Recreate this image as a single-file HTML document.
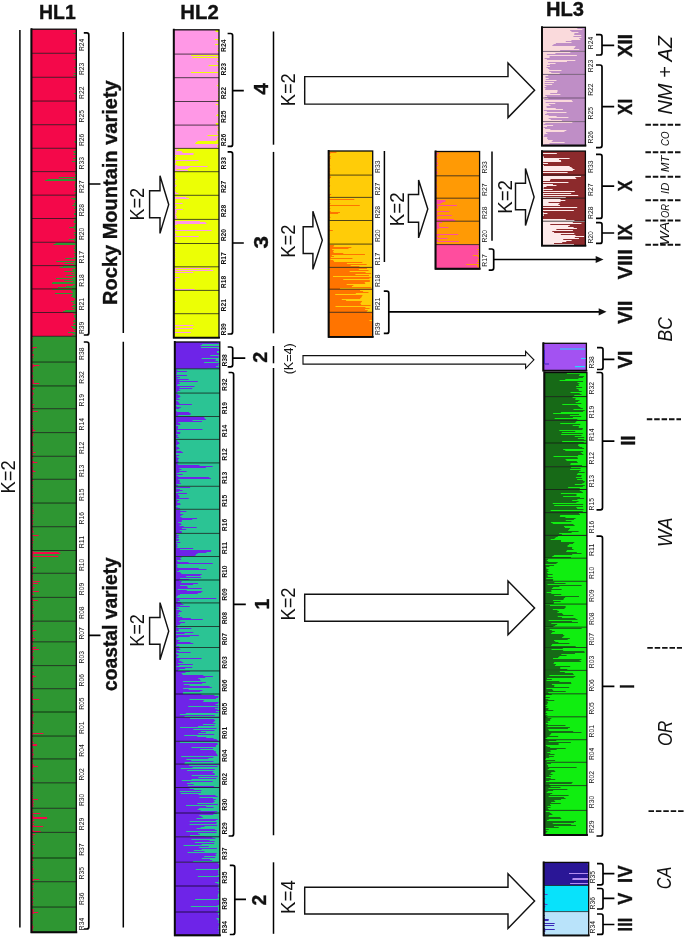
<!DOCTYPE html>
<html lang="en"><head><meta charset="utf-8"><title>Hierarchical STRUCTURE analysis</title>
<style>html,body{margin:0;padding:0;background:#fff;}body{width:685px;height:939px;overflow:hidden;}svg{display:block;font-family:"Liberation Sans", sans-serif;filter:blur(0.45px);}text{fill:#111;}</style>
</head><body>
<svg width="685" height="939" viewBox="0 0 685 939">
<rect width="685" height="939" fill="#fff"/>
<rect x="31.3" y="29.2" width="45" height="24.1" fill="#f4084a"/>
<path d="M73.34 33h2.96v1h-2.96zM75.21 49h1.09v1h-1.09z" fill="#2e9632"/>
<rect x="31.3" y="53.3" width="45" height="24" fill="#f4084a"/>
<path d="M74.9 55h1.4v1h-1.4zM73.5 59h2.8v1h-2.8zM74.15 67h2.15v1h-2.15zM75.26 70h1.04v1h-1.04zM73.71 73h2.59v1h-2.59zM73.42 75h2.88v1h-2.88z" fill="#2e9632"/>
<rect x="31.3" y="77.3" width="45" height="23.8" fill="#f4084a"/>
<path d="M73.85 93h2.45v1h-2.45z" fill="#2e9632"/>
<rect x="31.3" y="101.1" width="45" height="23.6" fill="#f4084a"/>
<path d="M74.9 110h1.4v1h-1.4z" fill="#2e9632"/>
<rect x="31.3" y="124.7" width="45" height="23.6" fill="#f4084a"/>
<path d="M74.34 141h1.96v1h-1.96zM74.83 142h1.47v1h-1.47z" fill="#2e9632"/>
<rect x="31.3" y="148.3" width="45" height="23.3" fill="#f4084a"/>
<path d="M75.48 150h0.82v1h-0.82zM73.33 151h2.97v1h-2.97zM74.08 152h2.22v1h-2.22zM75.69 153h0.61v1h-0.61zM73.43 154h2.87v1h-2.87zM75.87 156h0.43v1h-0.43zM75.55 157h0.75v1h-0.75zM72.92 158h3.38v1h-3.38zM75.66 159h0.64v1h-0.64zM75.71 160h0.59v1h-0.59zM71.86 161h4.44v1h-4.44zM75.57 162h0.73v1h-0.73zM75.5 163h0.8v1h-0.8zM75.85 164h0.45v1h-0.45zM75.86 165h0.44v1h-0.44zM75.71 166h0.59v1h-0.59zM75.45 168h0.85v1h-0.85zM75.48 170h0.82v1h-0.82z" fill="#2e9632"/>
<rect x="31.3" y="171.6" width="45" height="23.6" fill="#f4084a"/>
<path d="M74.94 172h1.36v1h-1.36zM74.78 173h1.52v1h-1.52zM74.94 175h1.36v1h-1.36zM75.14 176h1.16v1h-1.16zM58.68 177h17.62v1h-17.62zM75.41 178h0.89v1h-0.89zM47.43 179h28.87v1h-28.87zM45.28 180h31.02v1h-31.02zM75.55 181h0.75v1h-0.75zM75.68 182h0.62v1h-0.62zM75.2 183h1.1v1h-1.1zM74.77 184h1.53v1h-1.53zM74.58 185h1.72v1h-1.72zM75.63 186h0.67v1h-0.67zM74.75 187h1.55v1h-1.55zM75.55 189h0.75v1h-0.75zM75.75 190h0.55v1h-0.55zM74.1 191h2.2v1h-2.2zM75.63 193h0.67v1h-0.67zM74.51 194h1.79v1h-1.79z" fill="#2e9632"/>
<rect x="31.3" y="195.2" width="45" height="23.3" fill="#f4084a"/>
<path d="M75.62 196h0.68v1h-0.68zM75.38 197h0.92v1h-0.92zM70.91 198h5.39v1h-5.39zM73.49 199h2.81v1h-2.81zM74.89 201h1.41v1h-1.41zM75.27 202h1.03v1h-1.03zM73.68 203h2.62v1h-2.62zM74.42 204h1.88v1h-1.88zM72.44 205h3.86v1h-3.86zM75.47 206h0.83v1h-0.83zM74.99 207h1.31v1h-1.31zM73.92 208h2.38v1h-2.38zM74.81 211h1.49v1h-1.49zM73.98 213h2.32v1h-2.32zM73.96 214h2.34v1h-2.34zM73.79 217h2.51v1h-2.51z" fill="#2e9632"/>
<rect x="31.3" y="218.5" width="45" height="23.8" fill="#f4084a"/>
<path d="M74.82 219h1.48v1h-1.48zM74.53 220h1.77v1h-1.77zM73.6 221h2.7v1h-2.7zM73.92 222h2.38v1h-2.38zM74.66 224h1.64v1h-1.64zM74.57 225h1.73v1h-1.73zM73.73 226h2.57v1h-2.57zM69.23 227h7.07v1h-7.07zM74.32 228h1.98v1h-1.98zM74.61 229h1.69v1h-1.69zM75.79 230h0.51v1h-0.51zM73.73 232h2.57v1h-2.57zM75.63 233h0.67v1h-0.67zM73.73 234h2.57v1h-2.57zM74.87 235h1.43v1h-1.43zM75.6 236h0.7v1h-0.7zM75.37 237h0.93v1h-0.93zM74.66 238h1.64v1h-1.64zM68.7 239h7.6v1h-7.6zM74.19 240h2.11v1h-2.11zM74.81 241h1.49v1h-1.49z" fill="#2e9632"/>
<rect x="31.3" y="242.3" width="45" height="23.3" fill="#f4084a"/>
<path d="M55.45 243h20.85v1h-20.85zM53.39 244h22.91v1h-22.91zM75.14 245h1.16v1h-1.16zM74.71 246h1.59v1h-1.59zM74.62 247h1.68v1h-1.68zM73.62 248h2.68v1h-2.68zM74.96 249h1.34v1h-1.34zM74.18 250h2.12v1h-2.12zM74.68 251h1.62v1h-1.62zM75.89 252h0.41v1h-0.41zM73.79 253h2.51v1h-2.51zM74.88 254h1.42v1h-1.42zM74.39 255h1.91v1h-1.91zM73.89 257h2.41v1h-2.41zM65.36 258h10.94v1h-10.94zM75.35 259h0.95v1h-0.95zM75.09 260h1.21v1h-1.21zM56.26 261h20.04v1h-20.04zM74.42 262h1.88v1h-1.88zM64.43 263h11.87v1h-11.87zM73.79 264h2.51v1h-2.51zM74.65 265h1.65v0.6h-1.65z" fill="#2e9632"/>
<rect x="31.3" y="265.6" width="45" height="23.3" fill="#f4084a"/>
<path d="M62.82 266h13.48v1h-13.48zM59.67 267h16.63v1h-16.63zM75.33 268h0.97v1h-0.97zM72.46 269h3.84v1h-3.84zM72.73 270h3.57v1h-3.57zM64.48 271h11.82v1h-11.82zM74.35 272h1.95v1h-1.95zM71.5 273h4.8v1h-4.8zM74.42 274h1.88v1h-1.88zM65.93 275h10.37v1h-10.37zM75.71 276h0.59v1h-0.59zM72.39 277h3.91v1h-3.91zM55.94 278h20.36v1h-20.36zM72.19 279h4.11v1h-4.11zM64.27 280h12.03v1h-12.03zM73.12 281h3.18v1h-3.18zM52.49 282h23.81v1h-23.81zM52.01 283h24.29v1h-24.29zM74.65 284h1.65v1h-1.65zM72.83 285h3.47v1h-3.47zM66.09 286h10.21v1h-10.21zM57.82 287h18.48v1h-18.48zM72.11 288h4.19v0.9h-4.19z" fill="#2e9632"/>
<rect x="31.3" y="288.9" width="45" height="23.6" fill="#f4084a"/>
<path d="M52.35 289h23.95v1h-23.95zM71.46 290h4.84v1h-4.84zM72.5 291h3.8v1h-3.8zM72.85 292h3.45v1h-3.45zM54.86 293h21.44v1h-21.44zM72.54 294h3.76v1h-3.76zM72.14 295h4.16v1h-4.16zM71.08 296h5.22v1h-5.22zM72.97 297h3.33v1h-3.33zM74.94 298h1.36v1h-1.36zM75.21 299h1.09v1h-1.09zM74.12 300h2.18v1h-2.18zM70.92 301h5.38v1h-5.38zM73.75 302h2.55v1h-2.55zM72.56 303h3.74v1h-3.74zM75.19 304h1.11v1h-1.11zM72.83 305h3.47v1h-3.47zM71.72 306h4.58v1h-4.58zM74.6 307h1.7v1h-1.7zM72.38 308h3.92v1h-3.92zM74.42 309h1.88v1h-1.88zM65.13 310h11.17v1h-11.17zM63.03 311h13.27v1h-13.27z" fill="#2e9632"/>
<rect x="31.3" y="312.5" width="45" height="23.8" fill="#f4084a"/>
<path d="M73.42 313h2.88v1h-2.88zM75.81 314h0.49v1h-0.49zM73.99 315h2.31v1h-2.31zM73.86 316h2.44v1h-2.44zM74.48 317h1.82v1h-1.82zM75.3 318h1v1h-1zM75.28 319h1.02v1h-1.02zM73.59 320h2.71v1h-2.71zM73.14 321h3.16v1h-3.16zM75.43 322h0.87v1h-0.87zM73.68 323h2.62v1h-2.62zM73.08 324h3.22v1h-3.22zM75.82 325h0.48v1h-0.48zM71.2 326h5.1v1h-5.1zM72.4 327h3.9v1h-3.9zM72.93 328h3.37v1h-3.37zM75.6 329h0.7v1h-0.7zM73.87 330h2.43v1h-2.43zM75.65 331h0.65v1h-0.65zM68.06 332h8.24v1h-8.24zM72.76 333h3.54v1h-3.54zM74.41 334h1.89v1h-1.89zM72.29 335h4.01v1h-4.01z" fill="#2e9632"/>
<rect x="31.3" y="336.3" width="45" height="25.8" fill="#2e9632"/>
<path d="M31.3 337h1.75v1h-1.75zM31.3 338h0.68v1h-0.68zM31.3 340h1.46v1h-1.46zM31.3 341h0.59v1h-0.59zM31.3 342h0.86v1h-0.86zM31.3 343h0.93v1h-0.93zM31.3 344h1.16v1h-1.16zM31.3 345h1.04v1h-1.04zM31.3 346h0.68v1h-0.68zM31.3 347h5.49v1h-5.49zM31.3 348h2.21v1h-2.21zM31.3 350h2.27v1h-2.27zM31.3 351h1.06v1h-1.06zM31.3 352h0.86v1h-0.86zM31.3 353h0.47v1h-0.47zM31.3 354h2.4v1h-2.4zM31.3 355h2.35v1h-2.35zM31.3 357h2.26v1h-2.26zM31.3 358h0.59v1h-0.59zM31.3 359h1.14v1h-1.14zM31.3 360h0.64v1h-0.64zM31.3 361h1.39v1h-1.39z" fill="#f4084a"/>
<rect x="31.3" y="362.1" width="45" height="23.8" fill="#2e9632"/>
<path d="M31.3 363h0.5v1h-0.5zM31.3 364h2.24v1h-2.24zM31.3 365h8.04v1h-8.04zM31.3 366h3.15v1h-3.15zM31.3 367h1.64v1h-1.64zM31.3 368h1.54v1h-1.54zM31.3 369h1.23v1h-1.23zM31.3 370h1.62v1h-1.62zM31.3 371h1.94v1h-1.94zM31.3 372h0.63v1h-0.63zM31.3 373h0.51v1h-0.51zM31.3 374h1.22v1h-1.22zM31.3 375h1.66v1h-1.66zM31.3 376h1.97v1h-1.97zM31.3 377h1.36v1h-1.36zM31.3 378h0.53v1h-0.53zM31.3 379h1.87v1h-1.87zM31.3 380h2.43v1h-2.43zM31.3 381h2.29v1h-2.29zM31.3 382h2.32v1h-2.32zM31.3 383h8.03v1h-8.03zM31.3 384h0.84v1h-0.84zM31.3 385h1.35v0.9h-1.35z" fill="#f4084a"/>
<rect x="31.3" y="385.9" width="45" height="22.8" fill="#2e9632"/>
<path d="M31.3 386h0.69v1h-0.69zM31.3 387h0.94v1h-0.94zM31.3 388h3.48v1h-3.48zM31.3 389h2.24v1h-2.24zM31.3 390h0.48v1h-0.48zM31.3 391h1.03v1h-1.03zM31.3 392h1.53v1h-1.53zM31.3 393h2.46v1h-2.46zM31.3 394h2.02v1h-2.02zM31.3 395h1.52v1h-1.52zM31.3 396h1.22v1h-1.22zM31.3 398h1.66v1h-1.66zM31.3 399h1.72v1h-1.72zM31.3 401h1.2v1h-1.2zM31.3 402h0.52v1h-0.52zM31.3 404h3.06v1h-3.06zM31.3 405h1.54v1h-1.54zM31.3 406h1.63v1h-1.63zM31.3 407h2.33v1h-2.33zM31.3 408h0.44v0.7h-0.44z" fill="#f4084a"/>
<rect x="31.3" y="408.7" width="45" height="23.9" fill="#2e9632"/>
<path d="M31.3 409h2.19v1h-2.19zM31.3 410h0.82v1h-0.82zM31.3 411h6.55v1h-6.55zM31.3 412h1.22v1h-1.22zM31.3 413h0.78v1h-0.78zM31.3 414h1.42v1h-1.42zM31.3 416h1.46v1h-1.46zM31.3 417h0.67v1h-0.67zM31.3 418h1.67v1h-1.67zM31.3 419h0.92v1h-0.92zM31.3 420h2.23v1h-2.23zM31.3 422h1.27v1h-1.27zM31.3 423h0.73v1h-0.73zM31.3 425h1.79v1h-1.79zM31.3 426h0.82v1h-0.82zM31.3 427h2v1h-2zM31.3 428h1.67v1h-1.67zM31.3 429h2.21v1h-2.21zM31.3 430h4.06v1h-4.06zM31.3 431h1.9v1h-1.9zM31.3 432h0.96v0.6h-0.96z" fill="#f4084a"/>
<rect x="31.3" y="432.6" width="45" height="23.7" fill="#2e9632"/>
<path d="M31.3 433h2.27v1h-2.27zM31.3 434h1.72v1h-1.72zM31.3 435h2.11v1h-2.11zM31.3 436h1.21v1h-1.21zM31.3 437h0.92v1h-0.92zM31.3 438h0.4v1h-0.4zM31.3 440h1v1h-1zM31.3 442h1.79v1h-1.79zM31.3 443h1.55v1h-1.55zM31.3 444h2.07v1h-2.07zM31.3 445h2.18v1h-2.18zM31.3 446h0.47v1h-0.47zM31.3 448h1.65v1h-1.65zM31.3 449h0.87v1h-0.87zM31.3 450h1.93v1h-1.93zM31.3 451h1.18v1h-1.18zM31.3 452h4.41v1h-4.41zM31.3 453h0.95v1h-0.95zM31.3 454h2.14v1h-2.14zM31.3 455h1.15v1h-1.15z" fill="#f4084a"/>
<rect x="31.3" y="456.3" width="45" height="23" fill="#2e9632"/>
<path d="M31.3 457h1.96v1h-1.96zM31.3 458h1.44v1h-1.44zM31.3 459h0.43v1h-0.43zM31.3 461h2.43v1h-2.43zM31.3 462h6.01v1h-6.01zM31.3 463h1.34v1h-1.34zM31.3 464h0.81v1h-0.81zM31.3 465h0.71v1h-0.71zM31.3 466h0.47v1h-0.47zM31.3 467h2v1h-2zM31.3 468h1.64v1h-1.64zM31.3 469h1.11v1h-1.11zM31.3 470h2.22v1h-2.22zM31.3 471h4.26v1h-4.26zM31.3 472h1.08v1h-1.08zM31.3 473h1.26v1h-1.26zM31.3 474h1.92v1h-1.92zM31.3 475h0.96v1h-0.96zM31.3 476h1.71v1h-1.71zM31.3 477h1.21v1h-1.21zM31.3 478h0.51v1h-0.51z" fill="#f4084a"/>
<rect x="31.3" y="479.3" width="45" height="23.8" fill="#2e9632"/>
<path d="M31.3 480h2.22v1h-2.22zM31.3 481h0.9v1h-0.9zM31.3 482h0.57v1h-0.57zM31.3 483h0.96v1h-0.96zM31.3 484h0.96v1h-0.96zM31.3 485h1.86v1h-1.86zM31.3 486h0.45v1h-0.45zM31.3 487h2.01v1h-2.01zM31.3 488h0.67v1h-0.67zM31.3 489h0.69v1h-0.69zM31.3 490h1.12v1h-1.12zM31.3 491h1.35v1h-1.35zM31.3 492h0.54v1h-0.54zM31.3 493h1.89v1h-1.89zM31.3 494h1.52v1h-1.52zM31.3 495h0.74v1h-0.74zM31.3 496h1.97v1h-1.97zM31.3 497h1.75v1h-1.75zM31.3 498h0.93v1h-0.93zM31.3 499h1.17v1h-1.17zM31.3 500h1.64v1h-1.64zM31.3 501h1.25v1h-1.25zM31.3 502h1.74v1h-1.74z" fill="#f4084a"/>
<rect x="31.3" y="503.1" width="45" height="23.6" fill="#2e9632"/>
<path d="M31.3 504h0.64v1h-0.64zM31.3 505h1.1v1h-1.1zM31.3 507h1.98v1h-1.98zM31.3 508h0.45v1h-0.45zM31.3 509h1.84v1h-1.84zM31.3 510h2.09v1h-2.09zM31.3 511h2.36v1h-2.36zM31.3 512h1.11v1h-1.11zM31.3 513h2.44v1h-2.44zM31.3 514h0.84v1h-0.84zM31.3 515h1.17v1h-1.17zM31.3 516h1.02v1h-1.02zM31.3 517h1.89v1h-1.89zM31.3 518h0.72v1h-0.72zM31.3 519h0.7v1h-0.7zM31.3 520h2.05v1h-2.05zM31.3 521h1.49v1h-1.49zM31.3 522h1.02v1h-1.02zM31.3 523h2.06v1h-2.06zM31.3 524h1.46v1h-1.46zM31.3 525h1.02v1h-1.02zM31.3 526h1.07v0.7h-1.07z" fill="#f4084a"/>
<rect x="31.3" y="526.7" width="45" height="23.8" fill="#2e9632"/>
<path d="M31.3 527h1.18v1h-1.18zM31.3 528h1.85v1h-1.85zM31.3 529h0.9v1h-0.9zM31.3 530h1.66v1h-1.66zM31.3 531h2.31v1h-2.31zM31.3 532h2.09v1h-2.09zM31.3 533h0.54v1h-0.54zM31.3 535h7.27v1h-7.27zM31.3 536h0.55v1h-0.55zM31.3 537h1v1h-1zM31.3 538h2.01v1h-2.01zM31.3 539h1.59v1h-1.59zM31.3 540h2.24v1h-2.24zM31.3 541h0.67v1h-0.67zM31.3 542h1.89v1h-1.89zM31.3 543h1.47v1h-1.47zM31.3 544h0.54v1h-0.54zM31.3 545h1.28v1h-1.28zM31.3 546h1.35v1h-1.35zM31.3 548h1.49v1h-1.49zM31.3 549h1.07v1h-1.07z" fill="#f4084a"/>
<rect x="31.3" y="550.5" width="45" height="22.8" fill="#2e9632"/>
<path d="M31.3 551h2.18v1h-2.18zM31.3 552h27.4v1h-27.4zM31.3 553h29.07v1h-29.07zM31.3 554h2.22v1h-2.22zM31.3 555h2.07v1h-2.07zM31.3 556h27.01v1h-27.01zM31.3 557h1.11v1h-1.11zM31.3 558h1.84v1h-1.84zM31.3 559h1.21v1h-1.21zM31.3 560h0.98v1h-0.98zM31.3 561h1.36v1h-1.36zM31.3 562h2.2v1h-2.2zM31.3 563h1.05v1h-1.05zM31.3 564h1.51v1h-1.51zM31.3 565h0.52v1h-0.52zM31.3 566h1.43v1h-1.43zM31.3 567h4.72v1h-4.72zM31.3 568h1.55v1h-1.55zM31.3 569h2.09v1h-2.09zM31.3 570h1.58v1h-1.58zM31.3 571h1.68v1h-1.68zM31.3 572h1.27v1h-1.27z" fill="#f4084a"/>
<rect x="31.3" y="573.3" width="45" height="24.1" fill="#2e9632"/>
<path d="M31.3 574h0.45v1h-0.45zM31.3 575h1.97v1h-1.97zM31.3 576h1.05v1h-1.05zM31.3 577h1.49v1h-1.49zM31.3 578h1.17v1h-1.17zM31.3 579h1.67v1h-1.67zM31.3 580h1.5v1h-1.5zM31.3 581h8.45v1h-8.45zM31.3 582h1.23v1h-1.23zM31.3 583h6.78v1h-6.78zM31.3 584h1.29v1h-1.29zM31.3 585h1.68v1h-1.68zM31.3 587h3.18v1h-3.18zM31.3 588h2.18v1h-2.18zM31.3 589h1.84v1h-1.84zM31.3 590h0.65v1h-0.65zM31.3 591h7.71v1h-7.71zM31.3 592h0.41v1h-0.41zM31.3 593h1.26v1h-1.26zM31.3 594h2.39v1h-2.39zM31.3 596h0.4v1h-0.4z" fill="#f4084a"/>
<rect x="31.3" y="597.4" width="45" height="23.8" fill="#2e9632"/>
<path d="M31.3 598h1.87v1h-1.87zM31.3 599h1.32v1h-1.32zM31.3 600h6.65v1h-6.65zM31.3 601h0.55v1h-0.55zM31.3 602h1.68v1h-1.68zM31.3 603h1.09v1h-1.09zM31.3 604h1.99v1h-1.99zM31.3 606h2.09v1h-2.09zM31.3 607h2.42v1h-2.42zM31.3 608h0.92v1h-0.92zM31.3 609h1.07v1h-1.07zM31.3 610h2.24v1h-2.24zM31.3 612h1.54v1h-1.54zM31.3 614h2.18v1h-2.18zM31.3 615h2.14v1h-2.14zM31.3 616h2.28v1h-2.28zM31.3 617h1.47v1h-1.47zM31.3 618h1.91v1h-1.91zM31.3 619h1.59v1h-1.59zM31.3 620h0.69v1h-0.69z" fill="#f4084a"/>
<rect x="31.3" y="621.2" width="45" height="20.6" fill="#2e9632"/>
<path d="M31.3 622h1.92v1h-1.92zM31.3 623h0.42v1h-0.42zM31.3 624h0.75v1h-0.75zM31.3 625h2.22v1h-2.22zM31.3 626h1.55v1h-1.55zM31.3 627h0.63v1h-0.63zM31.3 628h1.49v1h-1.49zM31.3 629h0.56v1h-0.56zM31.3 630h5.11v1h-5.11zM31.3 631h2v1h-2zM31.3 632h1v1h-1zM31.3 634h1.32v1h-1.32zM31.3 635h1.98v1h-1.98zM31.3 636h1.95v1h-1.95zM31.3 637h0.8v1h-0.8zM31.3 638h3.63v1h-3.63zM31.3 639h1.48v1h-1.48zM31.3 640h2.36v1h-2.36zM31.3 641h1.57v0.8h-1.57z" fill="#f4084a"/>
<rect x="31.3" y="641.8" width="45" height="23.8" fill="#2e9632"/>
<path d="M31.3 642h0.49v1h-0.49zM31.3 643h1.5v1h-1.5zM31.3 644h1.73v1h-1.73zM31.3 645h0.58v1h-0.58zM31.3 646h0.72v1h-0.72zM31.3 647h4.94v1h-4.94zM31.3 648h2.11v1h-2.11zM31.3 649h7.68v1h-7.68zM31.3 651h2.34v1h-2.34zM31.3 652h1.56v1h-1.56zM31.3 653h0.95v1h-0.95zM31.3 654h1.31v1h-1.31zM31.3 655h0.55v1h-0.55zM31.3 656h1.84v1h-1.84zM31.3 657h2.31v1h-2.31zM31.3 658h2.18v1h-2.18zM31.3 659h1.23v1h-1.23zM31.3 660h2.12v1h-2.12zM31.3 661h0.99v1h-0.99zM31.3 662h1.64v1h-1.64zM31.3 664h0.55v1h-0.55zM31.3 665h1.15v0.6h-1.15z" fill="#f4084a"/>
<rect x="31.3" y="665.6" width="45" height="23.1" fill="#2e9632"/>
<path d="M31.3 666h0.83v1h-0.83zM31.3 667h0.6v1h-0.6zM31.3 668h2.26v1h-2.26zM31.3 670h0.7v1h-0.7zM31.3 671h0.81v1h-0.81zM31.3 672h2.45v1h-2.45zM31.3 673h0.44v1h-0.44zM31.3 675h2.43v1h-2.43zM31.3 676h4.86v1h-4.86zM31.3 677h2.1v1h-2.1zM31.3 678h1.2v1h-1.2zM31.3 679h1.51v1h-1.51zM31.3 680h1.96v1h-1.96zM31.3 681h0.4v1h-0.4zM31.3 682h1.34v1h-1.34zM31.3 683h1.6v1h-1.6zM31.3 684h1.54v1h-1.54zM31.3 685h1.87v1h-1.87zM31.3 687h2.12v1h-2.12z" fill="#f4084a"/>
<rect x="31.3" y="688.7" width="45" height="23.3" fill="#2e9632"/>
<path d="M31.3 689h1.31v1h-1.31zM31.3 690h0.78v1h-0.78zM31.3 691h0.74v1h-0.74zM31.3 692h0.46v1h-0.46zM31.3 693h1.38v1h-1.38zM31.3 694h1.92v1h-1.92zM31.3 695h1.73v1h-1.73zM31.3 696h0.56v1h-0.56zM31.3 697h1.34v1h-1.34zM31.3 698h1.42v1h-1.42zM31.3 699h8.02v1h-8.02zM31.3 700h0.9v1h-0.9zM31.3 702h0.48v1h-0.48zM31.3 703h1.39v1h-1.39zM31.3 704h2.02v1h-2.02zM31.3 706h0.95v1h-0.95zM31.3 707h0.7v1h-0.7zM31.3 708h0.71v1h-0.71zM31.3 709h0.75v1h-0.75zM31.3 710h1.15v1h-1.15zM31.3 711h1.4v1h-1.4z" fill="#f4084a"/>
<rect x="31.3" y="712" width="45" height="24.1" fill="#2e9632"/>
<path d="M31.3 712h2.14v1h-2.14zM31.3 713h0.88v1h-0.88zM31.3 714h2.22v1h-2.22zM31.3 715h1.92v1h-1.92zM31.3 716h2v1h-2zM31.3 717h0.9v1h-0.9zM31.3 718h1.11v1h-1.11zM31.3 719h0.8v1h-0.8zM31.3 721h2.14v1h-2.14zM31.3 722h2.04v1h-2.04zM31.3 723h2.68v1h-2.68zM31.3 724h0.94v1h-0.94zM31.3 725h1.57v1h-1.57zM31.3 726h1.23v1h-1.23zM31.3 727h1v1h-1zM31.3 728h1.52v1h-1.52zM31.3 729h0.93v1h-0.93zM31.3 730h0.72v1h-0.72zM31.3 731h0.98v1h-0.98zM31.3 732h0.89v1h-0.89zM31.3 733h12.06v1h-12.06zM31.3 734h1.62v1h-1.62zM31.3 735h1.28v1h-1.28z" fill="#f4084a"/>
<rect x="31.3" y="736.1" width="45" height="22.8" fill="#2e9632"/>
<path d="M31.3 737h1.6v1h-1.6zM31.3 738h0.77v1h-0.77zM31.3 739h1.09v1h-1.09zM31.3 740h1.02v1h-1.02zM31.3 741h1.48v1h-1.48zM31.3 742h2.45v1h-2.45zM31.3 743h0.58v1h-0.58zM31.3 744h5.62v1h-5.62zM31.3 745h5.62v1h-5.62zM31.3 746h0.73v1h-0.73zM31.3 747h0.57v1h-0.57zM31.3 748h1.74v1h-1.74zM31.3 749h2.07v1h-2.07zM31.3 750h1.9v1h-1.9zM31.3 751h1.99v1h-1.99zM31.3 752h0.51v1h-0.51zM31.3 753h1.95v1h-1.95zM31.3 754h2.39v1h-2.39zM31.3 755h1.99v1h-1.99zM31.3 756h1.08v1h-1.08zM31.3 757h1.85v1h-1.85zM31.3 758h1.47v0.9h-1.47z" fill="#f4084a"/>
<rect x="31.3" y="758.9" width="45" height="23.9" fill="#2e9632"/>
<path d="M31.3 759h0.95v1h-0.95zM31.3 760h1.35v1h-1.35zM31.3 761h0.91v1h-0.91zM31.3 762h1.53v1h-1.53zM31.3 763h0.95v1h-0.95zM31.3 764h2.38v1h-2.38zM31.3 765h2.27v1h-2.27zM31.3 766h6.57v1h-6.57zM31.3 767h1.97v1h-1.97zM31.3 768h1.39v1h-1.39zM31.3 769h1.1v1h-1.1zM31.3 770h1.01v1h-1.01zM31.3 771h1.41v1h-1.41zM31.3 772h1.13v1h-1.13zM31.3 773h2.2v1h-2.2zM31.3 774h1.22v1h-1.22zM31.3 775h1v1h-1zM31.3 776h0.61v1h-0.61zM31.3 777h2.08v1h-2.08zM31.3 778h2.24v1h-2.24zM31.3 779h2.45v1h-2.45zM31.3 780h0.58v1h-0.58zM31.3 781h1.36v1h-1.36zM31.3 782h1.64v0.8h-1.64z" fill="#f4084a"/>
<rect x="31.3" y="782.8" width="45" height="25.5" fill="#2e9632"/>
<path d="M31.3 783h1.02v1h-1.02zM31.3 785h0.92v1h-0.92zM31.3 786h0.91v1h-0.91zM31.3 787h1.73v1h-1.73zM31.3 788h1.47v1h-1.47zM31.3 789h1.42v1h-1.42zM31.3 790h1.15v1h-1.15zM31.3 791h1.93v1h-1.93zM31.3 792h0.61v1h-0.61zM31.3 793h1.6v1h-1.6zM31.3 795h1.83v1h-1.83zM31.3 796h0.82v1h-0.82zM31.3 797h1.54v1h-1.54zM31.3 798h1.09v1h-1.09zM31.3 799h6.71v1h-6.71zM31.3 800h1.62v1h-1.62zM31.3 801h2.32v1h-2.32zM31.3 802h2.25v1h-2.25zM31.3 803h1.58v1h-1.58zM31.3 804h2.36v1h-2.36zM31.3 805h1.84v1h-1.84zM31.3 806h2.19v1h-2.19zM31.3 807h0.77v1h-0.77z" fill="#f4084a"/>
<rect x="31.3" y="808.3" width="45" height="24.1" fill="#2e9632"/>
<path d="M31.3 809h1.42v1h-1.42zM31.3 810h1.23v1h-1.23zM31.3 811h1.89v1h-1.89zM31.3 812h0.63v1h-0.63zM31.3 813h9.24v1h-9.24zM31.3 814h1.22v1h-1.22zM31.3 815h2.24v1h-2.24zM31.3 816h2.36v1h-2.36zM31.3 817h15.77v1h-15.77zM31.3 818h15.79v1h-15.79zM31.3 819h1.4v1h-1.4zM31.3 820h3.04v1h-3.04zM31.3 821h1.81v1h-1.81zM31.3 822h0.8v1h-0.8zM31.3 823h2.88v1h-2.88zM31.3 824h1.11v1h-1.11zM31.3 825h2.81v1h-2.81zM31.3 826h11.83v1h-11.83zM31.3 827h1.49v1h-1.49zM31.3 828h1.29v1h-1.29zM31.3 829h0.93v1h-0.93zM31.3 830h2.24v1h-2.24zM31.3 831h9.38v1h-9.38z" fill="#f4084a"/>
<rect x="31.3" y="832.4" width="45" height="25.6" fill="#2e9632"/>
<path d="M31.3 833h0.89v1h-0.89zM31.3 834h3.98v1h-3.98zM31.3 835h0.86v1h-0.86zM31.3 836h1.97v1h-1.97zM31.3 837h0.52v1h-0.52zM31.3 838h1.75v1h-1.75zM31.3 839h1.15v1h-1.15zM31.3 840h0.78v1h-0.78zM31.3 841h1.64v1h-1.64zM31.3 842h2.28v1h-2.28zM31.3 844h3.77v1h-3.77zM31.3 846h0.63v1h-0.63zM31.3 847h1.84v1h-1.84zM31.3 848h1.76v1h-1.76zM31.3 849h2.1v1h-2.1zM31.3 852h2.01v1h-2.01zM31.3 853h1.91v1h-1.91zM31.3 854h1.11v1h-1.11zM31.3 855h0.86v1h-0.86zM31.3 856h1.18v1h-1.18zM31.3 857h1.89v1h-1.89z" fill="#f4084a"/>
<rect x="31.3" y="858" width="45" height="23.7" fill="#2e9632"/>
<path d="M31.3 858h1.64v1h-1.64zM31.3 859h1.8v1h-1.8zM31.3 860h2.31v1h-2.31zM31.3 862h0.81v1h-0.81zM31.3 863h1.66v1h-1.66zM31.3 865h0.68v1h-0.68zM31.3 866h1.82v1h-1.82zM31.3 867h0.77v1h-0.77zM31.3 868h2.33v1h-2.33zM31.3 869h2.22v1h-2.22zM31.3 870h0.98v1h-0.98zM31.3 871h1.94v1h-1.94zM31.3 872h1.57v1h-1.57zM31.3 873h2.1v1h-2.1zM31.3 874h1.04v1h-1.04zM31.3 875h0.86v1h-0.86zM31.3 876h1.23v1h-1.23zM31.3 877h1.28v1h-1.28zM31.3 879h7.99v1h-7.99zM31.3 880h2.43v1h-2.43zM31.3 881h1.32v0.7h-1.32z" fill="#f4084a"/>
<rect x="31.3" y="881.7" width="45" height="25.4" fill="#2e9632"/>
<path d="M31.3 882h0.65v1h-0.65zM31.3 883h2.29v1h-2.29zM31.3 884h2.33v1h-2.33zM31.3 885h0.78v1h-0.78zM31.3 886h1.97v1h-1.97zM31.3 887h0.64v1h-0.64zM31.3 888h2.31v1h-2.31zM31.3 889h2.09v1h-2.09zM31.3 890h0.64v1h-0.64zM31.3 891h1.05v1h-1.05zM31.3 892h2.1v1h-2.1zM31.3 893h1.5v1h-1.5zM31.3 894h1.81v1h-1.81zM31.3 895h1.34v1h-1.34zM31.3 896h0.9v1h-0.9zM31.3 897h1.77v1h-1.77zM31.3 898h2.41v1h-2.41zM31.3 899h1.21v1h-1.21zM31.3 901h2v1h-2zM31.3 902h1.71v1h-1.71zM31.3 903h0.99v1h-0.99zM31.3 904h2.08v1h-2.08zM31.3 905h0.89v1h-0.89zM31.3 906h1.01v1h-1.01z" fill="#f4084a"/>
<rect x="31.3" y="907.1" width="45" height="25.3" fill="#2e9632"/>
<path d="M31.3 908h0.42v1h-0.42zM31.3 909h2.41v1h-2.41zM31.3 910h2.42v1h-2.42zM31.3 911h2.05v1h-2.05zM31.3 912h6.91v1h-6.91zM31.3 913h2.37v1h-2.37zM31.3 914h0.9v1h-0.9zM31.3 916h1.23v1h-1.23zM31.3 917h1.06v1h-1.06zM31.3 918h1.42v1h-1.42zM31.3 919h0.48v1h-0.48zM31.3 920h1.46v1h-1.46zM31.3 921h0.8v1h-0.8zM31.3 922h0.79v1h-0.79zM31.3 923h0.73v1h-0.73zM31.3 924h1.38v1h-1.38zM31.3 925h1.14v1h-1.14zM31.3 926h2.17v1h-2.17zM31.3 927h1.93v1h-1.93zM31.3 928h1.85v1h-1.85zM31.3 929h1.11v1h-1.11zM31.3 930h1.49v1h-1.49zM31.3 931h1.97v1h-1.97z" fill="#f4084a"/>
<path d="M31.3 53.3H76.3M31.3 77.3H76.3M31.3 101.1H76.3M31.3 124.7H76.3M31.3 148.3H76.3M31.3 171.6H76.3M31.3 195.2H76.3M31.3 218.5H76.3M31.3 242.3H76.3M31.3 265.6H76.3M31.3 288.9H76.3M31.3 312.5H76.3M31.3 336.3H76.3M31.3 362.1H76.3M31.3 385.9H76.3M31.3 408.7H76.3M31.3 432.6H76.3M31.3 456.3H76.3M31.3 479.3H76.3M31.3 503.1H76.3M31.3 526.7H76.3M31.3 550.5H76.3M31.3 573.3H76.3M31.3 597.4H76.3M31.3 621.2H76.3M31.3 641.8H76.3M31.3 665.6H76.3M31.3 688.7H76.3M31.3 712H76.3M31.3 736.1H76.3M31.3 758.9H76.3M31.3 782.8H76.3M31.3 808.3H76.3M31.3 832.4H76.3M31.3 858H76.3M31.3 881.7H76.3M31.3 907.1H76.3" stroke="#000" stroke-width="0.95" stroke-opacity="0.72" fill="none"/>
<rect x="31.3" y="29.2" width="45" height="903.2" fill="none" stroke="#0a0a0a" stroke-width="1.3"/>
<path d="M31.5 29.2V932.2H76.3" fill="none" stroke="#0a0a0a" stroke-width="1.9" stroke-linecap="square"/>
<text transform="translate(83.6 51.1) rotate(-90)" font-size="6.6" fill="#2c3440" textLength="12.4" lengthAdjust="spacingAndGlyphs">R24</text>
<text transform="translate(83.6 75.1) rotate(-90)" font-size="6.6" fill="#2c3440" textLength="12.4" lengthAdjust="spacingAndGlyphs">R23</text>
<text transform="translate(83.6 98.9) rotate(-90)" font-size="6.6" fill="#2c3440" textLength="12.4" lengthAdjust="spacingAndGlyphs">R22</text>
<text transform="translate(83.6 122.5) rotate(-90)" font-size="6.6" fill="#2c3440" textLength="12.4" lengthAdjust="spacingAndGlyphs">R25</text>
<text transform="translate(83.6 146.1) rotate(-90)" font-size="6.6" fill="#2c3440" textLength="12.4" lengthAdjust="spacingAndGlyphs">R26</text>
<text transform="translate(83.6 169.4) rotate(-90)" font-size="6.6" fill="#2c3440" textLength="12.4" lengthAdjust="spacingAndGlyphs">R33</text>
<text transform="translate(83.6 193) rotate(-90)" font-size="6.6" fill="#2c3440" textLength="12.4" lengthAdjust="spacingAndGlyphs">R27</text>
<text transform="translate(83.6 216.3) rotate(-90)" font-size="6.6" fill="#2c3440" textLength="12.4" lengthAdjust="spacingAndGlyphs">R28</text>
<text transform="translate(83.6 240.1) rotate(-90)" font-size="6.6" fill="#2c3440" textLength="12.4" lengthAdjust="spacingAndGlyphs">R20</text>
<text transform="translate(83.6 263.4) rotate(-90)" font-size="6.6" fill="#2c3440" textLength="12.4" lengthAdjust="spacingAndGlyphs">R17</text>
<text transform="translate(83.6 286.7) rotate(-90)" font-size="6.6" fill="#2c3440" textLength="12.4" lengthAdjust="spacingAndGlyphs">R18</text>
<text transform="translate(83.6 310.3) rotate(-90)" font-size="6.6" fill="#2c3440" textLength="12.4" lengthAdjust="spacingAndGlyphs">R21</text>
<text transform="translate(83.6 334.1) rotate(-90)" font-size="6.6" fill="#2c3440" textLength="12.4" lengthAdjust="spacingAndGlyphs">R39</text>
<text transform="translate(83.6 359.9) rotate(-90)" font-size="6.6" fill="#2c3440" textLength="12.4" lengthAdjust="spacingAndGlyphs">R38</text>
<text transform="translate(83.6 383.7) rotate(-90)" font-size="6.6" fill="#2c3440" textLength="12.4" lengthAdjust="spacingAndGlyphs">R32</text>
<text transform="translate(83.6 406.5) rotate(-90)" font-size="6.6" fill="#2c3440" textLength="12.4" lengthAdjust="spacingAndGlyphs">R19</text>
<text transform="translate(83.6 430.4) rotate(-90)" font-size="6.6" fill="#2c3440" textLength="12.4" lengthAdjust="spacingAndGlyphs">R14</text>
<text transform="translate(83.6 454.1) rotate(-90)" font-size="6.6" fill="#2c3440" textLength="12.4" lengthAdjust="spacingAndGlyphs">R12</text>
<text transform="translate(83.6 477.1) rotate(-90)" font-size="6.6" fill="#2c3440" textLength="12.4" lengthAdjust="spacingAndGlyphs">R13</text>
<text transform="translate(83.6 500.9) rotate(-90)" font-size="6.6" fill="#2c3440" textLength="12.4" lengthAdjust="spacingAndGlyphs">R15</text>
<text transform="translate(83.6 524.5) rotate(-90)" font-size="6.6" fill="#2c3440" textLength="12.4" lengthAdjust="spacingAndGlyphs">R16</text>
<text transform="translate(83.6 548.3) rotate(-90)" font-size="6.6" fill="#2c3440" textLength="12.4" lengthAdjust="spacingAndGlyphs">R11</text>
<text transform="translate(83.6 571.1) rotate(-90)" font-size="6.6" fill="#2c3440" textLength="12.4" lengthAdjust="spacingAndGlyphs">R10</text>
<text transform="translate(83.6 595.2) rotate(-90)" font-size="6.6" fill="#2c3440" textLength="12.4" lengthAdjust="spacingAndGlyphs">R09</text>
<text transform="translate(83.6 619) rotate(-90)" font-size="6.6" fill="#2c3440" textLength="12.4" lengthAdjust="spacingAndGlyphs">R08</text>
<text transform="translate(83.6 639.6) rotate(-90)" font-size="6.6" fill="#2c3440" textLength="12.4" lengthAdjust="spacingAndGlyphs">R07</text>
<text transform="translate(83.6 663.4) rotate(-90)" font-size="6.6" fill="#2c3440" textLength="12.4" lengthAdjust="spacingAndGlyphs">R03</text>
<text transform="translate(83.6 686.5) rotate(-90)" font-size="6.6" fill="#2c3440" textLength="12.4" lengthAdjust="spacingAndGlyphs">R06</text>
<text transform="translate(83.6 709.8) rotate(-90)" font-size="6.6" fill="#2c3440" textLength="12.4" lengthAdjust="spacingAndGlyphs">R05</text>
<text transform="translate(83.6 733.9) rotate(-90)" font-size="6.6" fill="#2c3440" textLength="12.4" lengthAdjust="spacingAndGlyphs">R01</text>
<text transform="translate(83.6 756.7) rotate(-90)" font-size="6.6" fill="#2c3440" textLength="12.4" lengthAdjust="spacingAndGlyphs">R04</text>
<text transform="translate(83.6 780.6) rotate(-90)" font-size="6.6" fill="#2c3440" textLength="12.4" lengthAdjust="spacingAndGlyphs">R02</text>
<text transform="translate(83.6 806.1) rotate(-90)" font-size="6.6" fill="#2c3440" textLength="12.4" lengthAdjust="spacingAndGlyphs">R30</text>
<text transform="translate(83.6 830.2) rotate(-90)" font-size="6.6" fill="#2c3440" textLength="12.4" lengthAdjust="spacingAndGlyphs">R29</text>
<text transform="translate(83.6 855.8) rotate(-90)" font-size="6.6" fill="#2c3440" textLength="12.4" lengthAdjust="spacingAndGlyphs">R37</text>
<text transform="translate(83.6 879.5) rotate(-90)" font-size="6.6" fill="#2c3440" textLength="12.4" lengthAdjust="spacingAndGlyphs">R35</text>
<text transform="translate(83.6 904.9) rotate(-90)" font-size="6.6" fill="#2c3440" textLength="12.4" lengthAdjust="spacingAndGlyphs">R36</text>
<text transform="translate(83.6 930.2) rotate(-90)" font-size="6.6" fill="#2c3440" textLength="12.4" lengthAdjust="spacingAndGlyphs">R34</text>
<text x="39" y="19.4" font-size="20" font-weight="bold" stroke="#111" stroke-width="0.35" textLength="36.7" lengthAdjust="spacingAndGlyphs">HL1</text>
<text x="180.3" y="19.4" font-size="20" font-weight="bold" stroke="#111" stroke-width="0.35" textLength="38.4" lengthAdjust="spacingAndGlyphs">HL2</text>
<text x="546" y="16.4" font-size="20" font-weight="bold" stroke="#111" stroke-width="0.35" textLength="38" lengthAdjust="spacingAndGlyphs">HL3</text>
<line x1="19.9" y1="30" x2="19.9" y2="927.4" stroke="#000" stroke-width="1.5"/>
<text transform="translate(15.4 493.5) rotate(-90)" font-size="20" textLength="33.3" lengthAdjust="spacingAndGlyphs">K=2</text>
<path d="M83.8 32.9 H86.8 Q88.8 32.9 88.8 34.9 V333 Q88.8 335 86.8 335 H83.8 M88.8 184 H100.5" fill="none" stroke="#000" stroke-width="1.7"/>
<path d="M83.8 342 H86.8 Q88.8 342 88.8 344 V927 Q88.8 929 86.8 929 H83.8 M88.8 635.4 H100.5" fill="none" stroke="#000" stroke-width="1.7"/>
<text transform="translate(117.1 305) rotate(-90)" font-size="21" font-weight="bold" stroke="#111" stroke-width="0.35" textLength="224.7" lengthAdjust="spacingAndGlyphs">Rocky Mountain variety</text>
<text transform="translate(117.1 691) rotate(-90)" font-size="21" font-weight="bold" stroke="#111" stroke-width="0.35" textLength="133.8" lengthAdjust="spacingAndGlyphs">coastal variety</text>
<line x1="123.3" y1="32" x2="123.3" y2="333" stroke="#000" stroke-width="1.5"/>
<line x1="123.3" y1="341.7" x2="123.3" y2="927.4" stroke="#000" stroke-width="1.5"/>
<text transform="translate(143.5 220.6) rotate(-90)" font-size="20" textLength="32.7" lengthAdjust="spacingAndGlyphs">K=2</text>
<path d="M149.6 190.7 H160 V175.8 L168.7 204.6 L160 233.4 V217.8 H149.6 Z" fill="#fff" stroke="#111" stroke-width="1.45" stroke-linejoin="miter"/>
<text transform="translate(143.5 646.8) rotate(-90)" font-size="20" textLength="32.6" lengthAdjust="spacingAndGlyphs">K=2</text>
<path d="M149.6 617.5 H160 V602.6 L168.7 631.15 L160 659.7 V644.3 H149.6 Z" fill="#fff" stroke="#111" stroke-width="1.45" stroke-linejoin="miter"/>
<rect x="173.6" y="29.8" width="45.4" height="24.3" fill="#ff98e6"/>
<path d="M215.21 30h3.79v1h-3.79zM215.64 31h3.36v1h-3.36zM218.43 37h0.57v1h-0.57zM214.78 39h4.22v1h-4.22zM218.19 40h0.81v1h-0.81zM218.32 41h0.68v1h-0.68zM218.11 43h0.89v1h-0.89zM215.05 44h3.95v1h-3.95zM218.11 48h0.89v1h-0.89zM217.44 50h1.56v1h-1.56zM218.45 51h0.55v1h-0.55z" fill="#ecff05"/>
<rect x="173.6" y="54.1" width="45.4" height="23.6" fill="#ff98e6"/>
<path d="M191.15 55h27.85v1h-27.85zM192.4 57h26.6v1h-26.6zM218.44 58h0.56v1h-0.56zM217.01 61h1.99v1h-1.99zM218.34 62h0.66v1h-0.66zM208.59 65h10.41v1h-10.41zM218.35 67h0.65v1h-0.65zM218.46 71h0.54v1h-0.54zM190.91 72h28.09v1h-28.09zM218.43 73h0.57v1h-0.57zM218.41 74h0.59v1h-0.59zM218.15 77h0.85v0.7h-0.85z" fill="#ecff05"/>
<rect x="173.6" y="77.7" width="45.4" height="23.8" fill="#ff98e6"/>
<path d="M218.37 78h0.63v1h-0.63zM218.15 83h0.85v1h-0.85zM218.34 84h0.66v1h-0.66zM216.82 85h2.18v1h-2.18zM218.29 86h0.71v1h-0.71zM218.27 88h0.73v1h-0.73zM218.26 91h0.74v1h-0.74zM218.39 93h0.61v1h-0.61zM218.46 94h0.54v1h-0.54zM218.14 95h0.86v1h-0.86zM218.1 98h0.9v1h-0.9zM216.76 100h2.24v1h-2.24z" fill="#ecff05"/>
<rect x="173.6" y="101.5" width="45.4" height="23.6" fill="#ff98e6"/>
<path d="M218.18 102h0.82v1h-0.82zM215.81 104h3.19v1h-3.19zM218.6 105h0.4v1h-0.4zM218.39 106h0.61v1h-0.61zM218.37 108h0.63v1h-0.63zM218.5 109h0.5v1h-0.5zM218.42 112h0.58v1h-0.58zM217.12 114h1.88v1h-1.88zM216.22 115h2.78v1h-2.78zM218.42 116h0.58v1h-0.58zM218.12 118h0.88v1h-0.88zM218.4 120h0.6v1h-0.6zM218.39 121h0.61v1h-0.61zM215.74 123h3.26v1h-3.26zM216.03 124h2.97v1h-2.97z" fill="#ecff05"/>
<rect x="173.6" y="125.1" width="45.4" height="23.3" fill="#ff98e6"/>
<path d="M217.59 127h1.41v1h-1.41zM217.97 128h1.03v1h-1.03zM218.56 129h0.44v1h-0.44zM217.47 131h1.53v1h-1.53zM217.67 132h1.33v1h-1.33zM217.7 133h1.3v1h-1.3zM207.6 135h11.4v1h-11.4zM217.84 137h1.16v1h-1.16zM217.52 138h1.48v1h-1.48zM217.72 139h1.28v1h-1.28zM216.15 140h2.85v1h-2.85zM197.45 141h21.55v1h-21.55zM195.95 142h23.05v1h-23.05zM195.22 143h23.78v1h-23.78zM217.58 145h1.42v1h-1.42zM217.25 146h1.75v1h-1.75zM217.97 147h1.03v1h-1.03z" fill="#ecff05"/>
<rect x="173.6" y="148.4" width="45.4" height="23.3" fill="#ecff05"/>
<path d="M173.6 149h4.28v1h-4.28zM173.6 150h2.85v1h-2.85zM173.6 151h8.07v1h-8.07zM173.6 152h8.91v1h-8.91zM173.6 153h20v1h-20zM173.6 154h19.85v1h-19.85zM173.6 155h1.04v1h-1.04zM173.6 156h2.45v1h-2.45zM173.6 157h1.38v1h-1.38zM173.6 158h1.42v1h-1.42zM173.6 159h1.44v1h-1.44zM173.6 160h24.98v1h-24.98zM173.6 161h2.33v1h-2.33zM173.6 162h2.41v1h-2.41zM173.6 163h1.6v1h-1.6zM173.6 164h1.5v1h-1.5zM173.6 165h3.77v1h-3.77zM173.6 166h33.91v1h-33.91zM173.6 167h15.95v1h-15.95zM173.6 168h14.21v1h-14.21zM173.6 169h2.93v1h-2.93zM173.6 170h14.24v1h-14.24zM173.6 171h1.31v0.7h-1.31z" fill="#ff98e6"/>
<rect x="173.6" y="171.7" width="45.4" height="23.6" fill="#ecff05"/>
<path d="M173.6 172h0.46v1h-0.46zM173.6 173h1.84v1h-1.84zM173.6 174h1.09v1h-1.09zM173.6 175h1.49v1h-1.49zM173.6 176h1.89v1h-1.89zM173.6 177h1.33v1h-1.33zM173.6 178h1.06v1h-1.06zM173.6 179h2.93v1h-2.93zM173.6 180h1.88v1h-1.88zM173.6 181h0.84v1h-0.84zM173.6 182h1.88v1h-1.88zM173.6 183h1.1v1h-1.1zM173.6 184h1.71v1h-1.71zM173.6 185h2.89v1h-2.89zM173.6 186h2.35v1h-2.35zM173.6 187h0.79v1h-0.79zM173.6 188h0.73v1h-0.73zM173.6 189h1.87v1h-1.87zM173.6 190h1.4v1h-1.4zM173.6 191h1.68v1h-1.68zM173.6 192h2.52v1h-2.52zM173.6 193h4.77v1h-4.77zM173.6 194h1.46v1h-1.46z" fill="#ff98e6"/>
<rect x="173.6" y="195.3" width="45.4" height="24.1" fill="#ecff05"/>
<path d="M173.6 196h1.49v1h-1.49zM173.6 197h12.63v1h-12.63zM173.6 198h15.31v1h-15.31zM173.6 199h1.11v1h-1.11zM173.6 200h1.73v1h-1.73zM173.6 201h1.61v1h-1.61zM173.6 202h1.47v1h-1.47zM173.6 203h8.94v1h-8.94zM173.6 204h1.57v1h-1.57zM173.6 205h1.41v1h-1.41zM173.6 206h2.97v1h-2.97zM173.6 207h2.39v1h-2.39zM173.6 208h1.35v1h-1.35zM173.6 209h9.16v1h-9.16zM173.6 210h2.91v1h-2.91zM173.6 211h3.33v1h-3.33zM173.6 212h2.74v1h-2.74zM173.6 213h2.88v1h-2.88zM173.6 214h1.85v1h-1.85zM173.6 215h2.47v1h-2.47zM173.6 216h3.29v1h-3.29zM173.6 217h2.55v1h-2.55zM173.6 218h3.67v1h-3.67z" fill="#ff98e6"/>
<rect x="173.6" y="219.4" width="45.4" height="24.1" fill="#ecff05"/>
<path d="M173.6 220h0.73v1h-0.73zM173.6 221h26.32v1h-26.32zM173.6 222h31.98v1h-31.98zM173.6 223h32.85v1h-32.85zM173.6 224h3.17v1h-3.17zM173.6 225h0.85v1h-0.85zM173.6 226h0.47v1h-0.47zM173.6 227h1.17v1h-1.17zM173.6 228h2.79v1h-2.79zM173.6 229h1.6v1h-1.6zM173.6 230h37.99v1h-37.99zM173.6 231h1.15v1h-1.15zM173.6 232h1.32v1h-1.32zM173.6 233h1.79v1h-1.79zM173.6 234h2.64v1h-2.64zM173.6 235h1.97v1h-1.97zM173.6 236h25.11v1h-25.11zM173.6 237h1.34v1h-1.34zM173.6 238h1.25v1h-1.25zM173.6 239h2.07v1h-2.07zM173.6 240h1.67v1h-1.67zM173.6 241h1.36v1h-1.36zM173.6 242h3.01v1h-3.01z" fill="#ff98e6"/>
<rect x="173.6" y="243.5" width="45.4" height="23.3" fill="#ecff05"/>
<path d="M173.6 244h1.08v1h-1.08zM173.6 245h1.02v1h-1.02zM173.6 246h1.22v1h-1.22zM173.6 248h1.67v1h-1.67zM173.6 250h0.75v1h-0.75zM173.6 251h1.65v1h-1.65zM173.6 253h1.63v1h-1.63zM173.6 254h1.06v1h-1.06zM173.6 256h1.53v1h-1.53zM173.6 257h1.78v1h-1.78zM173.6 258h1.23v1h-1.23zM173.6 259h0.99v1h-0.99zM173.6 260h1.32v1h-1.32zM173.6 262h1.68v1h-1.68zM173.6 263h0.96v1h-0.96zM173.6 264h1.36v1h-1.36zM173.6 266h1.09v0.8h-1.09z" fill="#ff98e6"/>
<rect x="173.6" y="266.8" width="45.4" height="23.6" fill="#ecff05"/>
<path d="M173.6 267h0.61v1h-0.61zM173.6 268h36.73v1h-36.73zM173.6 269h2.13v1h-2.13zM173.6 270h39.6v1h-39.6zM173.6 271h1.65v1h-1.65zM173.6 272h19.62v1h-19.62zM173.6 273h0.78v1h-0.78zM173.6 274h0.58v1h-0.58zM173.6 275h0.81v1h-0.81zM173.6 276h1.29v1h-1.29zM173.6 277h6.02v1h-6.02zM173.6 278h1.5v1h-1.5zM173.6 279h1.66v1h-1.66zM173.6 280h2.16v1h-2.16zM173.6 281h2.04v1h-2.04zM173.6 282h0.62v1h-0.62zM173.6 283h1.35v1h-1.35zM173.6 284h1.3v1h-1.3zM173.6 285h1.37v1h-1.37zM173.6 286h1.19v1h-1.19zM173.6 287h0.89v1h-0.89zM173.6 288h2.07v1h-2.07zM173.6 289h21.12v1h-21.12z" fill="#ff98e6"/>
<rect x="173.6" y="290.4" width="45.4" height="23.3" fill="#ecff05"/>
<path d="M173.6 291h0.52v1h-0.52zM173.6 292h0.68v1h-0.68zM173.6 295h0.62v1h-0.62zM173.6 296h0.71v1h-0.71zM173.6 299h0.74v1h-0.74zM173.6 300h0.42v1h-0.42zM173.6 301h2.42v1h-2.42zM173.6 303h0.62v1h-0.62zM173.6 306h0.72v1h-0.72zM173.6 307h0.71v1h-0.71zM173.6 308h0.58v1h-0.58zM173.6 309h0.77v1h-0.77zM173.6 310h1.76v1h-1.76zM173.6 311h0.88v1h-0.88zM173.6 313h0.82v0.7h-0.82z" fill="#ff98e6"/>
<rect x="173.6" y="313.7" width="45.4" height="24.1" fill="#ecff05"/>
<path d="M173.6 314h1.51v1h-1.51zM173.6 315h0.79v1h-0.79zM173.6 316h1.58v1h-1.58zM173.6 317h0.97v1h-0.97zM173.6 318h1.76v1h-1.76zM173.6 319h1.52v1h-1.52zM173.6 320h0.83v1h-0.83zM173.6 321h1.65v1h-1.65zM173.6 322h0.71v1h-0.71zM173.6 323h1.24v1h-1.24zM173.6 324h0.74v1h-0.74zM173.6 325h19.73v1h-19.73zM173.6 326h1.52v1h-1.52zM173.6 327h1.47v1h-1.47zM173.6 328h19.29v1h-19.29zM173.6 329h0.83v1h-0.83zM173.6 330h0.64v1h-0.64zM173.6 331h0.53v1h-0.53zM173.6 332h17.27v1h-17.27zM173.6 333h1.47v1h-1.47zM173.6 335h0.49v1h-0.49zM173.6 336h0.41v1h-0.41zM173.6 337h1.62v0.8h-1.62z" fill="#ff98e6"/>
<path d="M173.6 54.1H219M173.6 77.7H219M173.6 101.5H219M173.6 125.1H219M173.6 148.4H219M173.6 171.7H219M173.6 195.3H219M173.6 219.4H219M173.6 243.5H219M173.6 266.8H219M173.6 290.4H219M173.6 313.7H219" stroke="#000" stroke-width="0.95" stroke-opacity="0.72" fill="none"/>
<rect x="173.6" y="29.8" width="45.4" height="308" fill="none" stroke="#0a0a0a" stroke-width="1.3"/>
<path d="M173.8 29.8V337.6H219" fill="none" stroke="#0a0a0a" stroke-width="1.9" stroke-linecap="square"/>
<text transform="translate(226.4 51.9) rotate(-90)" font-size="6.6" font-weight="bold" fill="#2a2a2a" textLength="12.4" lengthAdjust="spacingAndGlyphs">R24</text>
<text transform="translate(226.4 75.5) rotate(-90)" font-size="6.6" font-weight="bold" fill="#2a2a2a" textLength="12.4" lengthAdjust="spacingAndGlyphs">R23</text>
<text transform="translate(226.4 99.3) rotate(-90)" font-size="6.6" font-weight="bold" fill="#2a2a2a" textLength="12.4" lengthAdjust="spacingAndGlyphs">R22</text>
<text transform="translate(226.4 122.9) rotate(-90)" font-size="6.6" font-weight="bold" fill="#2a2a2a" textLength="12.4" lengthAdjust="spacingAndGlyphs">R25</text>
<text transform="translate(226.4 146.2) rotate(-90)" font-size="6.6" font-weight="bold" fill="#2a2a2a" textLength="12.4" lengthAdjust="spacingAndGlyphs">R26</text>
<text transform="translate(226.4 169.5) rotate(-90)" font-size="6.6" font-weight="bold" fill="#2a2a2a" textLength="12.4" lengthAdjust="spacingAndGlyphs">R33</text>
<text transform="translate(226.4 193.1) rotate(-90)" font-size="6.6" font-weight="bold" fill="#2a2a2a" textLength="12.4" lengthAdjust="spacingAndGlyphs">R27</text>
<text transform="translate(226.4 217.2) rotate(-90)" font-size="6.6" font-weight="bold" fill="#2a2a2a" textLength="12.4" lengthAdjust="spacingAndGlyphs">R28</text>
<text transform="translate(226.4 241.3) rotate(-90)" font-size="6.6" font-weight="bold" fill="#2a2a2a" textLength="12.4" lengthAdjust="spacingAndGlyphs">R20</text>
<text transform="translate(226.4 264.6) rotate(-90)" font-size="6.6" font-weight="bold" fill="#2a2a2a" textLength="12.4" lengthAdjust="spacingAndGlyphs">R17</text>
<text transform="translate(226.4 288.2) rotate(-90)" font-size="6.6" font-weight="bold" fill="#2a2a2a" textLength="12.4" lengthAdjust="spacingAndGlyphs">R18</text>
<text transform="translate(226.4 311.5) rotate(-90)" font-size="6.6" font-weight="bold" fill="#2a2a2a" textLength="12.4" lengthAdjust="spacingAndGlyphs">R21</text>
<text transform="translate(226.4 335.6) rotate(-90)" font-size="6.6" font-weight="bold" fill="#2a2a2a" textLength="12.4" lengthAdjust="spacingAndGlyphs">R39</text>
<rect x="174.6" y="342" width="45.2" height="26.8" fill="#6e24e8"/>
<path d="M217.54 342h2.26v1h-2.26zM202.03 344h17.77v1h-17.77zM200.56 345h19.24v1h-19.24zM218.94 346h0.86v1h-0.86zM201.06 347h18.74v1h-18.74zM217.6 348h2.2v1h-2.2zM219.32 349h0.48v1h-0.48zM216.92 351h2.88v1h-2.88zM216.98 352h2.82v1h-2.82zM219.38 353h0.42v1h-0.42zM210.27 355h9.53v1h-9.53zM218.67 356h1.13v1h-1.13zM218.67 357h1.13v1h-1.13zM201.63 358h18.17v1h-18.17zM215.93 359h3.87v1h-3.87zM215.49 360h4.31v1h-4.31zM218.18 361h1.62v1h-1.62zM204.07 362h15.73v1h-15.73zM218.34 364h1.46v1h-1.46zM218.49 365h1.31v1h-1.31zM216.01 366h3.79v1h-3.79zM218.87 367h0.93v1h-0.93zM207.62 368h12.18v0.8h-12.18z" fill="#2bc494"/>
<rect x="174.6" y="368.8" width="45.2" height="24.3" fill="#2bc494"/>
<path d="M174.6 369h2.09v1h-2.09zM174.6 370h2.77v1h-2.77zM174.6 371h12.31v1h-12.31zM174.6 372h2.2v1h-2.2zM174.6 373h2.25v1h-2.25zM174.6 374h1.85v1h-1.85zM174.6 375h12.36v1h-12.36zM174.6 376h2.28v1h-2.28zM174.6 377h5.14v1h-5.14zM174.6 378h2.78v1h-2.78zM174.6 379h14.08v1h-14.08zM174.6 380h4.76v1h-4.76zM174.6 381h23.18v1h-23.18zM174.6 382h4.2v1h-4.2zM174.6 383h5.36v1h-5.36zM174.6 384h2.95v1h-2.95zM174.6 385h2.46v1h-2.46zM174.6 386h19.85v1h-19.85zM174.6 387h5.01v1h-5.01zM174.6 388h17.63v1h-17.63zM174.6 389h4.48v1h-4.48zM174.6 390h5.61v1h-5.61zM174.6 391h3.13v1h-3.13zM174.6 392h2.2v1h-2.2z" fill="#6e24e8"/>
<rect x="174.6" y="393.1" width="45.2" height="23.4" fill="#2bc494"/>
<path d="M174.6 394h3.31v1h-3.31zM174.6 395h4.98v1h-4.98zM174.6 396h5.71v1h-5.71zM174.6 397h4.75v1h-4.75zM174.6 398h2.73v1h-2.73zM174.6 399h4.72v1h-4.72zM174.6 400h1.59v1h-1.59zM174.6 401h3.17v1h-3.17zM174.6 402h4.26v1h-4.26zM174.6 403h4.88v1h-4.88zM174.6 404h17.24v1h-17.24zM174.6 405h1.21v1h-1.21zM174.6 406h2.14v1h-2.14zM174.6 407h6.22v1h-6.22zM174.6 408h4.53v1h-4.53zM174.6 409h1.23v1h-1.23zM174.6 410h0.92v1h-0.92zM174.6 411h2.15v1h-2.15zM174.6 412h14.55v1h-14.55zM174.6 413h16.03v1h-16.03zM174.6 414h15.9v1h-15.9zM174.6 415h3.47v1h-3.47z" fill="#6e24e8"/>
<rect x="174.6" y="416.5" width="45.2" height="22.9" fill="#2bc494"/>
<path d="M174.6 417h29.63v1h-29.63zM174.6 418h30.11v1h-30.11zM174.6 419h31.37v1h-31.37zM174.6 420h17.93v1h-17.93zM174.6 421h27.44v1h-27.44zM174.6 422h3.67v1h-3.67zM174.6 423h5.28v1h-5.28zM174.6 424h5.7v1h-5.7zM174.6 425h1.68v1h-1.68zM174.6 426h3.41v1h-3.41zM174.6 427h3.41v1h-3.41zM174.6 428h3.18v1h-3.18zM174.6 429h27.81v1h-27.81zM174.6 430h2.25v1h-2.25zM174.6 431h2.56v1h-2.56zM174.6 432h5.75v1h-5.75zM174.6 433h5.51v1h-5.51zM174.6 434h1.64v1h-1.64zM174.6 435h3.28v1h-3.28zM174.6 436h2.55v1h-2.55zM174.6 437h4.21v1h-4.21zM174.6 438h1.56v1h-1.56z" fill="#6e24e8"/>
<rect x="174.6" y="439.4" width="45.2" height="23.5" fill="#2bc494"/>
<path d="M174.6 440h2.64v1h-2.64zM174.6 441h3v1h-3zM174.6 442h4.45v1h-4.45zM174.6 443h4.94v1h-4.94zM174.6 444h3.08v1h-3.08zM174.6 445h1.75v1h-1.75zM174.6 446h2.11v1h-2.11zM174.6 447h3.96v1h-3.96zM174.6 448h4.9v1h-4.9zM174.6 449h2.75v1h-2.75zM174.6 450h1.84v1h-1.84zM174.6 451h6.79v1h-6.79zM174.6 452h8.28v1h-8.28zM174.6 453h1.51v1h-1.51zM174.6 454h1.61v1h-1.61zM174.6 455h4.56v1h-4.56zM174.6 456h2.1v1h-2.1zM174.6 457h2.74v1h-2.74zM174.6 458h4.3v1h-4.3zM174.6 459h3.47v1h-3.47zM174.6 460h2.95v1h-2.95zM174.6 461h3.91v1h-3.91zM174.6 462h3.79v0.9h-3.79z" fill="#6e24e8"/>
<rect x="174.6" y="462.9" width="45.2" height="23.4" fill="#2bc494"/>
<path d="M174.6 463h2.44v1h-2.44zM174.6 464h3.49v1h-3.49zM174.6 465h24.83v1h-24.83zM174.6 466h37.97v1h-37.97zM174.6 467h31.24v1h-31.24zM174.6 468h4.71v1h-4.71zM174.6 469h6.86v1h-6.86zM174.6 470h4.82v1h-4.82zM174.6 471h11.96v1h-11.96zM174.6 472h4.24v1h-4.24zM174.6 473h2.05v1h-2.05zM174.6 474h8.04v1h-8.04zM174.6 475h2.2v1h-2.2zM174.6 476h3.67v1h-3.67zM174.6 477h34.68v1h-34.68zM174.6 478h36.27v1h-36.27zM174.6 479h3.63v1h-3.63zM174.6 480h4.97v1h-4.97zM174.6 481h5.18v1h-5.18zM174.6 482h4.78v1h-4.78zM174.6 483h6.27v1h-6.27zM174.6 484h1.91v1h-1.91zM174.6 485h3.3v1h-3.3z" fill="#6e24e8"/>
<rect x="174.6" y="486.3" width="45.2" height="23" fill="#2bc494"/>
<path d="M174.6 487h15.55v1h-15.55zM174.6 488h1.78v1h-1.78zM174.6 489h5.19v1h-5.19zM174.6 490h7.94v1h-7.94zM174.6 491h4.1v1h-4.1zM174.6 492h1.39v1h-1.39zM174.6 493h12.34v1h-12.34zM174.6 494h3.42v1h-3.42zM174.6 495h4.29v1h-4.29zM174.6 496h4.96v1h-4.96zM174.6 497h4.6v1h-4.6zM174.6 498h14.12v1h-14.12zM174.6 499h2.17v1h-2.17zM174.6 500h4.55v1h-4.55zM174.6 501h2.93v1h-2.93zM174.6 502h2.67v1h-2.67zM174.6 503h5.57v1h-5.57zM174.6 504h5.85v1h-5.85zM174.6 505h2.48v1h-2.48zM174.6 506h1.27v1h-1.27zM174.6 507h2.84v1h-2.84zM174.6 508h5.38v1h-5.38z" fill="#6e24e8"/>
<rect x="174.6" y="509.3" width="45.2" height="24.1" fill="#2bc494"/>
<path d="M174.6 510h5.66v1h-5.66zM174.6 511h11.74v1h-11.74zM174.6 512h5.69v1h-5.69zM174.6 513h5.65v1h-5.65zM174.6 514h8.59v1h-8.59zM174.6 515h6.8v1h-6.8zM174.6 516h5.5v1h-5.5zM174.6 517h7v1h-7zM174.6 518h22.44v1h-22.44zM174.6 519h17.65v1h-17.65zM174.6 520h7.25v1h-7.25zM174.6 521h7.22v1h-7.22zM174.6 522h3.68v1h-3.68zM174.6 523h6.08v1h-6.08zM174.6 524h6.83v1h-6.83zM174.6 525h4.88v1h-4.88zM174.6 526h9.03v1h-9.03zM174.6 527h22.12v1h-22.12zM174.6 528h7.37v1h-7.37zM174.6 529h11.58v1h-11.58zM174.6 530h5.03v1h-5.03zM174.6 531h6.98v1h-6.98zM174.6 532h7.27v1h-7.27z" fill="#6e24e8"/>
<rect x="174.6" y="533.4" width="45.2" height="23.1" fill="#2bc494"/>
<path d="M174.6 534h2.38v1h-2.38zM174.6 535h4.39v1h-4.39zM174.6 536h2.99v1h-2.99zM174.6 537h4.34v1h-4.34zM174.6 538h2.17v1h-2.17zM174.6 539h4.35v1h-4.35zM174.6 540h3.93v1h-3.93zM174.6 541h1.74v1h-1.74zM174.6 542h5.71v1h-5.71zM174.6 543h1.98v1h-1.98zM174.6 544h3.01v1h-3.01zM174.6 545h2.48v1h-2.48zM174.6 546h3.08v1h-3.08zM174.6 547h2.23v1h-2.23zM174.6 548h18.56v1h-18.56zM174.6 549h5.29v1h-5.29zM174.6 550h36.66v1h-36.66zM174.6 551h36.38v1h-36.38zM174.6 552h31.86v1h-31.86zM174.6 553h22.94v1h-22.94zM174.6 554h21.44v1h-21.44zM174.6 555h20.81v1h-20.81z" fill="#6e24e8"/>
<rect x="174.6" y="556.5" width="45.2" height="23.5" fill="#2bc494"/>
<path d="M174.6 557h6.89v1h-6.89zM174.6 558h5.63v1h-5.63zM174.6 559h6.53v1h-6.53zM174.6 560h2.4v1h-2.4zM174.6 561h3.11v1h-3.11zM174.6 562h13.98v1h-13.98zM174.6 563h38.11v1h-38.11zM174.6 564h2.21v1h-2.21zM174.6 565h2.92v1h-2.92zM174.6 566h2.46v1h-2.46zM174.6 567h2.78v1h-2.78zM174.6 568h24.23v1h-24.23zM174.6 569h31.88v1h-31.88zM174.6 570h4.51v1h-4.51zM174.6 571h2.59v1h-2.59zM174.6 572h5.82v1h-5.82zM174.6 573h6.7v1h-6.7zM174.6 574h27.05v1h-27.05zM174.6 575h25.77v1h-25.77zM174.6 576h11.54v1h-11.54zM174.6 577h26.55v1h-26.55zM174.6 578h5.49v1h-5.49zM174.6 579h14.68v1h-14.68z" fill="#6e24e8"/>
<rect x="174.6" y="580" width="45.2" height="22.9" fill="#2bc494"/>
<path d="M174.6 580h4.58v1h-4.58zM174.6 581h7.19v1h-7.19zM174.6 582h6.33v1h-6.33zM174.6 583h23.29v1h-23.29zM174.6 584h18.42v1h-18.42zM174.6 585h5.43v1h-5.43zM174.6 586h12.64v1h-12.64zM174.6 587h13.13v1h-13.13zM174.6 588h27.1v1h-27.1zM174.6 589h3.11v1h-3.11zM174.6 590h12.17v1h-12.17zM174.6 591h27.8v1h-27.8zM174.6 592h26.6v1h-26.6zM174.6 593h23.14v1h-23.14zM174.6 594h5.4v1h-5.4zM174.6 595h3.27v1h-3.27zM174.6 596h2.09v1h-2.09zM174.6 597h1.9v1h-1.9zM174.6 598h41.74v1h-41.74zM174.6 599h4.68v1h-4.68zM174.6 600h5.35v1h-5.35zM174.6 601h3.13v1h-3.13zM174.6 602h6.15v0.9h-6.15z" fill="#6e24e8"/>
<rect x="174.6" y="602.9" width="45.2" height="23.6" fill="#2bc494"/>
<path d="M174.6 603h7.03v1h-7.03zM174.6 604h8.82v1h-8.82zM174.6 605h5.56v1h-5.56zM174.6 606h15.06v1h-15.06zM174.6 607h2.21v1h-2.21zM174.6 608h4.37v1h-4.37zM174.6 609h1.86v1h-1.86zM174.6 610h5.65v1h-5.65zM174.6 611h7.01v1h-7.01zM174.6 612h4.14v1h-4.14zM174.6 613h4.03v1h-4.03zM174.6 614h3.07v1h-3.07zM174.6 615h5.41v1h-5.41zM174.6 616h3.02v1h-3.02zM174.6 617h7.59v1h-7.59zM174.6 618h16.29v1h-16.29zM174.6 619h28.08v1h-28.08zM174.6 620h5.63v1h-5.63zM174.6 621h4.42v1h-4.42zM174.6 622h10.42v1h-10.42zM174.6 623h5.97v1h-5.97zM174.6 624h5.25v1h-5.25zM174.6 625h2.87v1h-2.87z" fill="#6e24e8"/>
<rect x="174.6" y="626.5" width="45.2" height="21" fill="#2bc494"/>
<path d="M174.6 627h2.72v1h-2.72zM174.6 628h16.75v1h-16.75zM174.6 629h4.02v1h-4.02zM174.6 630h4.17v1h-4.17zM174.6 631h1.67v1h-1.67zM174.6 632h18.67v1h-18.67zM174.6 633h9.91v1h-9.91zM174.6 634h1.44v1h-1.44zM174.6 635h24.25v1h-24.25zM174.6 636h15.14v1h-15.14zM174.6 637h3.52v1h-3.52zM174.6 638h1.64v1h-1.64zM174.6 639h2.2v1h-2.2zM174.6 640h4.93v1h-4.93zM174.6 641h3.58v1h-3.58zM174.6 642h15.92v1h-15.92zM174.6 643h18.61v1h-18.61zM174.6 644h2.39v1h-2.39zM174.6 645h1.78v1h-1.78zM174.6 646h4.56v1h-4.56z" fill="#6e24e8"/>
<rect x="174.6" y="647.5" width="45.2" height="23.4" fill="#2bc494"/>
<path d="M174.6 648h4.93v1h-4.93zM174.6 649h5.67v1h-5.67zM174.6 650h2.23v1h-2.23zM174.6 651h4.22v1h-4.22zM174.6 652h16v1h-16zM174.6 653h1.5v1h-1.5zM174.6 654h2.67v1h-2.67zM174.6 655h4.13v1h-4.13zM174.6 656h2.76v1h-2.76zM174.6 657h2.07v1h-2.07zM174.6 658h26.95v1h-26.95zM174.6 659h4.95v1h-4.95zM174.6 660h4.62v1h-4.62zM174.6 661h6.94v1h-6.94zM174.6 662h8.62v1h-8.62zM174.6 663h3.44v1h-3.44zM174.6 664h18.26v1h-18.26zM174.6 665h4.59v1h-4.59zM174.6 666h1.84v1h-1.84zM174.6 667h17.63v1h-17.63zM174.6 668h10.54v1h-10.54zM174.6 669h4.58v1h-4.58zM174.6 670h3.38v0.9h-3.38z" fill="#6e24e8"/>
<rect x="174.6" y="670.9" width="45.2" height="23.1" fill="#2bc494"/>
<path d="M174.6 671h15.22v1h-15.22zM174.6 672h10.9v1h-10.9zM174.6 673h7.12v1h-7.12zM174.6 674h7.95v1h-7.95zM174.6 675h28.7v1h-28.7zM174.6 676h38.28v1h-38.28zM174.6 677h30.61v1h-30.61zM174.6 678h23.64v1h-23.64zM174.6 679h25.35v1h-25.35zM174.6 680h25.94v1h-25.94zM174.6 681h8.31v1h-8.31zM174.6 682h31.26v1h-31.26zM174.6 683h27.54v1h-27.54zM174.6 684h9.13v1h-9.13zM174.6 685h14.95v1h-14.95zM174.6 686h34.89v1h-34.89zM174.6 687h37.16v1h-37.16zM174.6 688h8.53v1h-8.53zM174.6 689h14.13v1h-14.13zM174.6 690h27.79v1h-27.79zM174.6 691h25.62v1h-25.62zM174.6 692h8.34v1h-8.34zM174.6 693h8.48v1h-8.48z" fill="#6e24e8"/>
<rect x="174.6" y="694" width="45.2" height="23.3" fill="#6e24e8"/>
<path d="M201.4 694h18.4v1h-18.4zM214.42 695h5.38v1h-5.38zM218.44 696h1.36v1h-1.36zM218.21 697h1.59v1h-1.59zM216.03 698h3.77v1h-3.77zM189.38 699h30.42v1h-30.42zM203.79 700h16.01v1h-16.01zM203.18 701h16.62v1h-16.62zM218.53 702h1.27v1h-1.27zM217.67 703h2.13v1h-2.13zM215.52 704h4.28v1h-4.28zM218.17 705h1.63v1h-1.63zM188.24 706h31.56v1h-31.56zM218.19 707h1.61v1h-1.61zM215 708h4.8v1h-4.8zM217.44 709h2.36v1h-2.36zM219.11 710h0.69v1h-0.69zM215.91 711h3.89v1h-3.89zM218.31 712h1.49v1h-1.49zM185.88 713h33.92v1h-33.92zM179.82 714h39.98v1h-39.98zM214.7 715h5.1v1h-5.1zM184.5 716h35.3v1h-35.3z" fill="#2bc494"/>
<rect x="174.6" y="717.3" width="45.2" height="24" fill="#6e24e8"/>
<path d="M190.02 718h29.78v1h-29.78zM214.25 719h5.55v1h-5.55zM215.12 720h4.68v1h-4.68zM214.26 721h5.54v1h-5.54zM213.14 722h6.66v1h-6.66zM215.38 723h4.42v1h-4.42zM203 724h16.8v1h-16.8zM214.53 725h5.27v1h-5.27zM197.99 726h21.81v1h-21.81zM180.07 727h39.73v1h-39.73zM216.46 728h3.34v1h-3.34zM193.32 729h26.48v1h-26.48zM214.5 730h5.3v1h-5.3zM200.86 731h18.94v1h-18.94zM206.03 732h13.77v1h-13.77zM198.37 733h21.43v1h-21.43zM214.2 734h5.6v1h-5.6zM184.19 735h35.61v1h-35.61zM197.25 736h22.55v1h-22.55zM206.24 737h13.56v1h-13.56zM213.56 738h6.24v1h-6.24zM216.69 739h3.11v1h-3.11zM217.58 740h2.22v1h-2.22z" fill="#2bc494"/>
<rect x="174.6" y="741.3" width="45.2" height="22.8" fill="#6e24e8"/>
<path d="M179.81 742h39.99v1h-39.99zM217.45 743h2.35v1h-2.35zM217.63 744h2.17v1h-2.17zM215.99 745h3.81v1h-3.81zM215.83 746h3.97v1h-3.97zM191.47 747h28.33v1h-28.33zM213.07 748h6.73v1h-6.73zM200.18 749h19.62v1h-19.62zM213.95 750h5.85v1h-5.85zM215.84 751h3.96v1h-3.96zM215.74 752h4.06v1h-4.06zM216.43 753h3.37v1h-3.37zM217.12 754h2.68v1h-2.68zM217.69 755h2.11v1h-2.11zM181.17 756h38.63v1h-38.63zM213.34 757h6.46v1h-6.46zM208.43 758h11.37v1h-11.37zM186.32 759h33.48v1h-33.48zM191.17 760h28.63v1h-28.63zM213.45 761h6.35v1h-6.35zM184.79 762h35.01v1h-35.01zM184.51 763h35.29v1h-35.29z" fill="#2bc494"/>
<rect x="174.6" y="764.1" width="45.2" height="23.4" fill="#6e24e8"/>
<path d="M189.06 765h30.74v1h-30.74zM217.69 766h2.11v1h-2.11zM192.5 767h27.3v1h-27.3zM180.78 768h39.02v1h-39.02zM214.76 769h5.04v1h-5.04zM187.07 770h32.73v1h-32.73zM213.39 771h6.41v1h-6.41zM212.6 772h7.2v1h-7.2zM214.49 773h5.31v1h-5.31zM214.75 774h5.05v1h-5.05zM191.65 775h28.15v1h-28.15zM217.72 776h2.08v1h-2.08zM198.37 777h21.43v1h-21.43zM216.24 778h3.56v1h-3.56zM191.54 779h28.26v1h-28.26zM181.73 780h38.07v1h-38.07zM212.71 781h7.09v1h-7.09zM190.32 782h29.48v1h-29.48zM187.03 783h32.77v1h-32.77zM193.57 784h26.23v1h-26.23zM187.87 785h31.93v1h-31.93zM213.98 786h5.82v1h-5.82z" fill="#2bc494"/>
<rect x="174.6" y="787.5" width="45.2" height="25.5" fill="#6e24e8"/>
<path d="M189.63 788h30.17v1h-30.17zM193.74 789h26.06v1h-26.06zM201.4 790h18.4v1h-18.4zM179.71 791h40.09v1h-40.09zM200.97 792h18.83v1h-18.83zM180.68 793h39.12v1h-39.12zM198.65 794h21.15v1h-21.15zM215.56 795h4.24v1h-4.24zM217.59 796h2.21v1h-2.21zM199.41 797h20.39v1h-20.39zM213.07 798h6.73v1h-6.73zM215.81 799h3.99v1h-3.99zM213.8 800h6v1h-6zM214.74 801h5.06v1h-5.06zM213.45 802h6.35v1h-6.35zM197.36 803h22.44v1h-22.44zM217.88 804h1.92v1h-1.92zM185.99 805h33.81v1h-33.81zM206.1 806h13.7v1h-13.7zM213.54 807h6.26v1h-6.26zM199.11 808h20.69v1h-20.69zM197.58 809h22.22v1h-22.22zM200.57 810h19.23v1h-19.23zM217.35 811h2.45v1h-2.45zM214.72 812h5.08v1h-5.08z" fill="#2bc494"/>
<rect x="174.6" y="813" width="45.2" height="23.8" fill="#6e24e8"/>
<path d="M217.23 813h2.57v1h-2.57zM213.34 814h6.46v1h-6.46zM199.25 815h20.55v1h-20.55zM201.4 816h18.4v1h-18.4zM202.75 817h17.05v1h-17.05zM196.52 818h23.28v1h-23.28zM217.77 819h2.03v1h-2.03zM215.9 820h3.9v1h-3.9zM189.72 821h30.08v1h-30.08zM216.84 822h2.96v1h-2.96zM216.3 823h3.5v1h-3.5zM189.57 824h30.23v1h-30.23zM217.22 825h2.58v1h-2.58zM204.5 826h15.3v1h-15.3zM200.75 827h19.05v1h-19.05zM196.6 828h23.2v1h-23.2zM214.89 829h4.91v1h-4.91zM216.78 830h3.02v1h-3.02zM186.21 831h33.59v1h-33.59zM216.51 832h3.29v1h-3.29zM198.3 833h21.5v1h-21.5zM199.95 834h19.85v1h-19.85zM189.92 835h29.88v1h-29.88zM204.95 836h14.85v0.8h-14.85z" fill="#2bc494"/>
<rect x="174.6" y="836.8" width="45.2" height="25.4" fill="#6e24e8"/>
<path d="M212.36 837h7.44v1h-7.44zM215.36 838h4.44v1h-4.44zM191.36 839h28.44v1h-28.44zM209.57 840h10.23v1h-10.23zM214.64 841h5.16v1h-5.16zM194.83 842h24.97v1h-24.97zM214.26 843h5.54v1h-5.54zM201.64 844h18.16v1h-18.16zM183.54 845h36.26v1h-36.26zM208.81 846h10.99v1h-10.99zM199.25 847h20.55v1h-20.55zM216.93 848h2.87v1h-2.87zM201.63 849h18.17v1h-18.17zM193.81 850h25.99v1h-25.99zM204.5 851h15.3v1h-15.3zM187.6 852h32.2v1h-32.2zM216.69 853h3.11v1h-3.11zM215.47 854h4.33v1h-4.33zM216.23 855h3.57v1h-3.57zM204.1 856h15.7v1h-15.7zM215.23 857h4.57v1h-4.57zM201.84 858h17.96v1h-17.96zM209.95 859h9.85v1h-9.85zM212.16 860h7.64v1h-7.64zM193.07 861h26.73v1h-26.73z" fill="#2bc494"/>
<rect x="174.6" y="862.2" width="45.2" height="23.8" fill="#6e24e8"/>
<path d="M218.02 863h1.78v1h-1.78zM218.92 864h0.88v1h-0.88zM219.14 865h0.66v1h-0.66zM219.31 866h0.49v1h-0.49zM219.29 867h0.51v1h-0.51zM218.11 868h1.69v1h-1.69zM195.76 869h24.04v1h-24.04zM218.56 870h1.24v1h-1.24zM218.2 871h1.6v1h-1.6zM218.52 872h1.28v1h-1.28zM218.19 873h1.61v1h-1.61zM219.29 874h0.51v1h-0.51zM217.66 875h2.14v1h-2.14zM197.8 876h22v1h-22zM219.05 877h0.75v1h-0.75zM219.22 878h0.58v1h-0.58zM218.83 879h0.97v1h-0.97zM218.5 880h1.3v1h-1.3zM218.57 881h1.23v1h-1.23zM215.12 882h4.68v1h-4.68zM217.56 883h2.24v1h-2.24zM219.04 884h0.76v1h-0.76zM218.02 885h1.78v1h-1.78z" fill="#2bc494"/>
<rect x="174.6" y="886" width="45.2" height="26" fill="#6e24e8"/>
<path d="M218.47 886h1.33v1h-1.33zM218.27 887h1.53v1h-1.53zM218.89 889h0.91v1h-0.91zM218.2 890h1.6v1h-1.6zM219.34 891h0.46v1h-0.46zM218.72 892h1.08v1h-1.08zM218.54 893h1.26v1h-1.26zM218 894h1.8v1h-1.8zM217.81 895h1.99v1h-1.99zM217.83 896h1.97v1h-1.97zM218.55 897h1.25v1h-1.25zM217.57 898h2.23v1h-2.23zM195.12 899h24.68v1h-24.68zM219.03 900h0.77v1h-0.77zM218.93 901h0.87v1h-0.87zM218.92 902h0.88v1h-0.88zM219.05 903h0.75v1h-0.75zM219.21 904h0.59v1h-0.59zM217.67 905h2.13v1h-2.13zM190.77 906h29.03v1h-29.03zM218.1 907h1.7v1h-1.7zM217.98 908h1.82v1h-1.82zM218.13 909h1.67v1h-1.67zM218.32 910h1.48v1h-1.48zM216.61 911h3.19v1h-3.19z" fill="#2bc494"/>
<rect x="174.6" y="912" width="45.2" height="23.5" fill="#6e24e8"/>
<path d="M219.16 912h0.64v1h-0.64zM218.1 913h1.7v1h-1.7zM218.18 914h1.62v1h-1.62zM218.92 915h0.88v1h-0.88zM218.78 916h1.02v1h-1.02zM216.54 918h3.26v1h-3.26zM217.39 919h2.41v1h-2.41zM218.47 920h1.33v1h-1.33zM218.72 921h1.08v1h-1.08zM218.27 922h1.53v1h-1.53zM219.2 925h0.6v1h-0.6zM218.52 926h1.28v1h-1.28zM218.85 927h0.95v1h-0.95zM218.22 928h1.58v1h-1.58zM219.04 929h0.76v1h-0.76zM218.57 931h1.23v1h-1.23zM219.3 932h0.5v1h-0.5zM218.66 933h1.14v1h-1.14z" fill="#2bc494"/>
<path d="M174.6 368.8H219.8M174.6 393.1H219.8M174.6 416.5H219.8M174.6 439.4H219.8M174.6 462.9H219.8M174.6 486.3H219.8M174.6 509.3H219.8M174.6 533.4H219.8M174.6 556.5H219.8M174.6 580H219.8M174.6 602.9H219.8M174.6 626.5H219.8M174.6 647.5H219.8M174.6 670.9H219.8M174.6 694H219.8M174.6 717.3H219.8M174.6 741.3H219.8M174.6 764.1H219.8M174.6 787.5H219.8M174.6 813H219.8M174.6 836.8H219.8M174.6 862.2H219.8M174.6 886H219.8M174.6 912H219.8" stroke="#000" stroke-width="0.95" stroke-opacity="0.72" fill="none"/>
<rect x="174.6" y="342" width="45.2" height="593.5" fill="none" stroke="#0a0a0a" stroke-width="1.3"/>
<path d="M174.8 342V935.3H219.8" fill="none" stroke="#0a0a0a" stroke-width="1.9" stroke-linecap="square"/>
<text transform="translate(226.6 366.6) rotate(-90)" font-size="6.6" font-weight="bold" fill="#2a2a2a" textLength="12.4" lengthAdjust="spacingAndGlyphs">R38</text>
<text transform="translate(226.6 390.9) rotate(-90)" font-size="6.6" font-weight="bold" fill="#2a2a2a" textLength="12.4" lengthAdjust="spacingAndGlyphs">R32</text>
<text transform="translate(226.6 414.3) rotate(-90)" font-size="6.6" font-weight="bold" fill="#2a2a2a" textLength="12.4" lengthAdjust="spacingAndGlyphs">R19</text>
<text transform="translate(226.6 437.2) rotate(-90)" font-size="6.6" font-weight="bold" fill="#2a2a2a" textLength="12.4" lengthAdjust="spacingAndGlyphs">R14</text>
<text transform="translate(226.6 460.7) rotate(-90)" font-size="6.6" font-weight="bold" fill="#2a2a2a" textLength="12.4" lengthAdjust="spacingAndGlyphs">R12</text>
<text transform="translate(226.6 484.1) rotate(-90)" font-size="6.6" font-weight="bold" fill="#2a2a2a" textLength="12.4" lengthAdjust="spacingAndGlyphs">R13</text>
<text transform="translate(226.6 507.1) rotate(-90)" font-size="6.6" font-weight="bold" fill="#2a2a2a" textLength="12.4" lengthAdjust="spacingAndGlyphs">R15</text>
<text transform="translate(226.6 531.2) rotate(-90)" font-size="6.6" font-weight="bold" fill="#2a2a2a" textLength="12.4" lengthAdjust="spacingAndGlyphs">R16</text>
<text transform="translate(226.6 554.3) rotate(-90)" font-size="6.6" font-weight="bold" fill="#2a2a2a" textLength="12.4" lengthAdjust="spacingAndGlyphs">R11</text>
<text transform="translate(226.6 577.8) rotate(-90)" font-size="6.6" font-weight="bold" fill="#2a2a2a" textLength="12.4" lengthAdjust="spacingAndGlyphs">R10</text>
<text transform="translate(226.6 600.7) rotate(-90)" font-size="6.6" font-weight="bold" fill="#2a2a2a" textLength="12.4" lengthAdjust="spacingAndGlyphs">R09</text>
<text transform="translate(226.6 624.3) rotate(-90)" font-size="6.6" font-weight="bold" fill="#2a2a2a" textLength="12.4" lengthAdjust="spacingAndGlyphs">R08</text>
<text transform="translate(226.6 645.3) rotate(-90)" font-size="6.6" font-weight="bold" fill="#2a2a2a" textLength="12.4" lengthAdjust="spacingAndGlyphs">R07</text>
<text transform="translate(226.6 668.7) rotate(-90)" font-size="6.6" font-weight="bold" fill="#2a2a2a" textLength="12.4" lengthAdjust="spacingAndGlyphs">R03</text>
<text transform="translate(226.6 691.8) rotate(-90)" font-size="6.6" font-weight="bold" fill="#2a2a2a" textLength="12.4" lengthAdjust="spacingAndGlyphs">R06</text>
<text transform="translate(226.6 715.1) rotate(-90)" font-size="6.6" font-weight="bold" fill="#2a2a2a" textLength="12.4" lengthAdjust="spacingAndGlyphs">R05</text>
<text transform="translate(226.6 739.1) rotate(-90)" font-size="6.6" font-weight="bold" fill="#2a2a2a" textLength="12.4" lengthAdjust="spacingAndGlyphs">R01</text>
<text transform="translate(226.6 761.9) rotate(-90)" font-size="6.6" font-weight="bold" fill="#2a2a2a" textLength="12.4" lengthAdjust="spacingAndGlyphs">R04</text>
<text transform="translate(226.6 785.3) rotate(-90)" font-size="6.6" font-weight="bold" fill="#2a2a2a" textLength="12.4" lengthAdjust="spacingAndGlyphs">R02</text>
<text transform="translate(226.6 810.8) rotate(-90)" font-size="6.6" font-weight="bold" fill="#2a2a2a" textLength="12.4" lengthAdjust="spacingAndGlyphs">R30</text>
<text transform="translate(226.6 834.6) rotate(-90)" font-size="6.6" font-weight="bold" fill="#2a2a2a" textLength="12.4" lengthAdjust="spacingAndGlyphs">R29</text>
<text transform="translate(226.6 860) rotate(-90)" font-size="6.6" font-weight="bold" fill="#2a2a2a" textLength="12.4" lengthAdjust="spacingAndGlyphs">R37</text>
<text transform="translate(226.6 883.8) rotate(-90)" font-size="6.6" font-weight="bold" fill="#2a2a2a" textLength="12.4" lengthAdjust="spacingAndGlyphs">R35</text>
<text transform="translate(226.6 909.8) rotate(-90)" font-size="6.6" font-weight="bold" fill="#2a2a2a" textLength="12.4" lengthAdjust="spacingAndGlyphs">R36</text>
<text transform="translate(226.6 933.3) rotate(-90)" font-size="6.6" font-weight="bold" fill="#2a2a2a" textLength="12.4" lengthAdjust="spacingAndGlyphs">R34</text>
<path d="M227.6 33.5 H230.6 Q232.6 33.5 232.6 35.5 V144.4 Q232.6 146.4 230.6 146.4 H227.6 M232.6 90.6 H243.8" fill="none" stroke="#000" stroke-width="1.7"/>
<path d="M227.6 151.9 H230.6 Q232.6 151.9 232.6 153.9 V332 Q232.6 334 230.6 334 H227.6 M232.6 243 H243.8" fill="none" stroke="#000" stroke-width="1.7"/>
<path d="M227.7 347 H230.7 Q232.7 347 232.7 349 V364.8 Q232.7 366.8 230.7 366.8 H227.7 M232.7 358.1 H245.3" fill="none" stroke="#000" stroke-width="1.7"/>
<path d="M228.6 372.5 H231.6 Q233.6 372.5 233.6 374.5 V834 Q233.6 836 231.6 836 H228.6 M233.6 604.4 H245.8" fill="none" stroke="#000" stroke-width="1.7"/>
<path d="M229.8 865.4 H232.8 Q234.8 865.4 234.8 867.4 V932.5 Q234.8 934.5 232.8 934.5 H229.8 M234.8 899.4 H246" fill="none" stroke="#000" stroke-width="1.7"/>
<text transform="translate(267.9 94.8) rotate(-90)" font-size="19.8" font-weight="bold" stroke="#111" stroke-width="0.35" textLength="11.7" lengthAdjust="spacingAndGlyphs">4</text>
<text transform="translate(268.1 248.5) rotate(-90)" font-size="19.8" font-weight="bold" stroke="#111" stroke-width="0.35" textLength="12.5" lengthAdjust="spacingAndGlyphs">3</text>
<text transform="translate(266.5 362.8) rotate(-90)" font-size="19.8" font-weight="bold" stroke="#111" stroke-width="0.35" textLength="11" lengthAdjust="spacingAndGlyphs">2</text>
<text transform="translate(269.4 609.4) rotate(-90)" font-size="19.8" font-weight="bold" stroke="#111" stroke-width="0.35" textLength="10.8" lengthAdjust="spacingAndGlyphs">1</text>
<text transform="translate(265.9 905.5) rotate(-90)" font-size="19.8" font-weight="bold" stroke="#111" stroke-width="0.35" textLength="10.7" lengthAdjust="spacingAndGlyphs">2</text>
<line x1="273.5" y1="31.5" x2="273.5" y2="144.7" stroke="#000" stroke-width="1.5"/>
<line x1="273.5" y1="151.9" x2="273.5" y2="333.3" stroke="#000" stroke-width="1.5"/>
<line x1="273.5" y1="346" x2="273.5" y2="363.3" stroke="#000" stroke-width="1.5"/>
<line x1="273.5" y1="368" x2="273.5" y2="835.2" stroke="#000" stroke-width="1.5"/>
<line x1="273.5" y1="862.3" x2="273.5" y2="933.8" stroke="#000" stroke-width="1.5"/>
<text transform="translate(294.7 106.3) rotate(-90)" font-size="20" textLength="33.1" lengthAdjust="spacingAndGlyphs">K=2</text>
<path d="M304.7 76.6 H508 V63 L534.6 90.3 L508 117.6 V104.1 H304.7 Z" fill="#fff" stroke="#111" stroke-width="1.45" stroke-linejoin="miter"/>
<text transform="translate(294.7 257.8) rotate(-90)" font-size="20" textLength="33.2" lengthAdjust="spacingAndGlyphs">K=2</text>
<path d="M303.2 226.7 H312.9 V211.3 L322.3 240.35 L312.9 269.4 V253.5 H303.2 Z" fill="#fff" stroke="#111" stroke-width="1.45" stroke-linejoin="miter"/>
<text transform="translate(292.9 374.3) rotate(-90)" font-size="12.6" textLength="31" lengthAdjust="spacingAndGlyphs">(K=4)</text>
<path d="M303 355.6 H525.6 V351.4 L533.9 359.85 L525.6 368.3 V364.1 H303 Z" fill="#fff" stroke="#111" stroke-width="1.15" stroke-linejoin="miter"/>
<text transform="translate(294.7 620.6) rotate(-90)" font-size="20" textLength="33.2" lengthAdjust="spacingAndGlyphs">K=2</text>
<path d="M304.7 594.2 H508 V581.1 L534.6 607.95 L508 634.8 V621.3 H304.7 Z" fill="#fff" stroke="#111" stroke-width="1.45" stroke-linejoin="miter"/>
<text transform="translate(294.7 914) rotate(-90)" font-size="20" textLength="33.8" lengthAdjust="spacingAndGlyphs">K=4</text>
<path d="M304.7 887.3 H508 V873.8 L534.6 901.1 L508 928.4 V914 H304.7 Z" fill="#fff" stroke="#111" stroke-width="1.45" stroke-linejoin="miter"/>
<rect x="328.5" y="151" width="44.2" height="24.1" fill="#ffcc08"/>
<path d="M328.5 151h0.45v1h-0.45zM328.5 152h7.94v1h-7.94zM328.5 153h1.98v1h-1.98zM328.5 154h1.11v1h-1.11zM328.5 156h2.2v1h-2.2zM328.5 157h1.83v1h-1.83zM328.5 158h2.16v1h-2.16zM328.5 159h1.44v1h-1.44zM328.5 160h1.3v1h-1.3zM328.5 161h1.34v1h-1.34zM328.5 162h0.93v1h-0.93zM328.5 163h1.18v1h-1.18zM328.5 164h1.38v1h-1.38zM328.5 165h1.69v1h-1.69zM328.5 166h0.88v1h-0.88zM328.5 167h1.11v1h-1.11zM328.5 168h1.69v1h-1.69zM328.5 169h1.73v1h-1.73zM328.5 170h1.07v1h-1.07zM328.5 171h1.78v1h-1.78zM328.5 172h0.86v1h-0.86zM328.5 173h1.64v1h-1.64zM328.5 174h0.92v1h-0.92z" fill="#ff7400"/>
<rect x="328.5" y="175.1" width="44.2" height="22.3" fill="#ffcc08"/>
<path d="M328.5 176h2.12v1h-2.12zM328.5 177h2.49v1h-2.49zM328.5 178h1.42v1h-1.42zM328.5 180h0.86v1h-0.86zM328.5 181h0.86v1h-0.86zM328.5 182h1.5v1h-1.5zM328.5 183h0.74v1h-0.74zM328.5 185h1.63v1h-1.63zM328.5 186h1.51v1h-1.51zM328.5 189h0.7v1h-0.7zM328.5 192h0.59v1h-0.59zM328.5 194h2.68v1h-2.68zM328.5 195h1.51v1h-1.51zM328.5 196h1.04v1h-1.04z" fill="#ff7400"/>
<rect x="328.5" y="197.4" width="44.2" height="23.1" fill="#ffcc08"/>
<path d="M328.5 198h1.01v1h-1.01zM328.5 199h25.78v1h-25.78zM328.5 200h0.66v1h-0.66zM328.5 201h1.18v1h-1.18zM328.5 202h0.65v1h-0.65zM328.5 203h1.96v1h-1.96zM328.5 204h1.11v1h-1.11zM328.5 205h31.29v1h-31.29zM328.5 206h1.29v1h-1.29zM328.5 207h0.76v1h-0.76zM328.5 208h1.82v1h-1.82zM328.5 209h1.13v1h-1.13zM328.5 210h0.9v1h-0.9zM328.5 211h2.2v1h-2.2zM328.5 212h11.46v1h-11.46zM328.5 213h9.66v1h-9.66zM328.5 214h1.34v1h-1.34zM328.5 215h1.35v1h-1.35zM328.5 216h1.34v1h-1.34zM328.5 217h1.96v1h-1.96zM328.5 218h1.07v1h-1.07zM328.5 219h1.44v1h-1.44z" fill="#ff7400"/>
<rect x="328.5" y="220.5" width="44.2" height="23.6" fill="#ffcc08"/>
<path d="M328.5 223h0.58v1h-0.58zM328.5 224h0.6v1h-0.6zM328.5 225h0.64v1h-0.64zM328.5 226h1.17v1h-1.17zM328.5 227h0.72v1h-0.72zM328.5 228h0.81v1h-0.81zM328.5 229h1.3v1h-1.3zM328.5 230h4.3v1h-4.3zM328.5 231h0.88v1h-0.88zM328.5 233h0.46v1h-0.46zM328.5 234h1.08v1h-1.08zM328.5 235h0.56v1h-0.56zM328.5 236h0.85v1h-0.85zM328.5 237h0.55v1h-0.55zM328.5 238h1.09v1h-1.09zM328.5 240h1v1h-1zM328.5 241h0.79v1h-0.79zM328.5 242h1.15v1h-1.15z" fill="#ff7400"/>
<rect x="328.5" y="244.1" width="44.2" height="23.3" fill="#ffcc08"/>
<path d="M328.5 245h5.62v1h-5.62zM328.5 246h5.06v1h-5.06zM328.5 247h22.83v1h-22.83zM328.5 248h19.98v1h-19.98zM328.5 249h3.68v1h-3.68zM328.5 250h5.3v1h-5.3zM328.5 251h4.58v1h-4.58zM328.5 252h5.12v1h-5.12zM328.5 253h14.77v1h-14.77zM328.5 254h36.43v1h-36.43zM328.5 255h3.27v1h-3.27zM328.5 256h5.42v1h-5.42zM328.5 257h2.33v1h-2.33zM328.5 258h23.94v1h-23.94zM328.5 259h1.96v1h-1.96zM328.5 260h4.8v1h-4.8zM328.5 261h5.55v1h-5.55zM328.5 262h33.81v1h-33.81zM328.5 263h18.43v1h-18.43zM328.5 264h38.16v1h-38.16zM328.5 265h22.14v1h-22.14zM328.5 266h30.77v1h-30.77z" fill="#ff7400"/>
<rect x="328.5" y="267.4" width="44.2" height="21.8" fill="#ff7400"/>
<path d="M367.02 268h5.68v1h-5.68zM358.81 269h13.89v1h-13.89zM368.5 270h4.2v1h-4.2zM349.6 271h23.1v1h-23.1zM365.61 272h7.09v1h-7.09zM371.04 273h1.66v1h-1.66zM355.4 274h17.3v1h-17.3zM368.98 275h3.72v1h-3.72zM332.99 276h39.71v1h-39.71zM371.2 277h1.5v1h-1.5zM369.39 278h3.31v1h-3.31zM343.25 279h29.45v1h-29.45zM369.85 280h2.85v1h-2.85zM369.81 281h2.89v1h-2.89zM364.75 282h7.95v1h-7.95zM365.18 283h7.52v1h-7.52zM346.64 284h26.06v1h-26.06zM353.34 285h19.36v1h-19.36zM351.93 286h20.77v1h-20.77zM371.26 287h1.44v1h-1.44zM339.97 288h32.73v1h-32.73z" fill="#ffcc08"/>
<rect x="328.5" y="289.2" width="44.2" height="23.1" fill="#ff7400"/>
<path d="M360.06 290h12.64v1h-12.64zM363.07 291h9.63v1h-9.63zM368.48 292h4.22v1h-4.22zM355.84 293h16.86v1h-16.86zM335.23 294h37.47v1h-37.47zM362.39 295h10.31v1h-10.31zM361.84 296h10.86v1h-10.86zM361.3 297h11.4v1h-11.4zM360.21 298h12.49v1h-12.49zM341.77 299h30.93v1h-30.93zM346.06 300h26.64v1h-26.64zM361.98 301h10.72v1h-10.72zM361.22 302h11.48v1h-11.48zM360.51 303h12.19v1h-12.19zM361.15 304h11.55v1h-11.55zM370.64 305h2.06v1h-2.06zM335.49 306h37.21v1h-37.21zM365.44 307h7.26v1h-7.26zM369.58 308h3.12v1h-3.12zM365.08 309h7.62v1h-7.62zM367.78 310h4.92v1h-4.92zM366.86 311h5.84v1h-5.84z" fill="#ffcc08"/>
<rect x="328.5" y="312.3" width="44.2" height="24.8" fill="#ff7400"/>
<path d="M371.73 314h0.97v1h-0.97zM371.83 315h0.87v1h-0.87zM372.08 317h0.62v1h-0.62zM372 318h0.7v1h-0.7zM369.43 320h3.27v1h-3.27zM371.93 321h0.77v1h-0.77zM371.88 324h0.82v1h-0.82zM372.17 326h0.53v1h-0.53zM371.92 327h0.78v1h-0.78zM372.02 329h0.68v1h-0.68zM371.85 332h0.85v1h-0.85zM372 333h0.7v1h-0.7zM372.06 334h0.64v1h-0.64zM372.19 335h0.51v1h-0.51zM372.03 336h0.67v1h-0.67z" fill="#ffcc08"/>
<path d="M328.5 175.1H372.7M328.5 197.4H372.7M328.5 220.5H372.7M328.5 244.1H372.7M328.5 267.4H372.7M328.5 289.2H372.7M328.5 312.3H372.7" stroke="#000" stroke-width="0.95" stroke-opacity="0.72" fill="none"/>
<rect x="328.5" y="151" width="44.2" height="186.1" fill="none" stroke="#0a0a0a" stroke-width="1.3"/>
<path d="M328.7 151V336.9H372.7" fill="none" stroke="#0a0a0a" stroke-width="1.9" stroke-linecap="square"/>
<text transform="translate(379.9 172.9) rotate(-90)" font-size="6.6" fill="#1c1c1c" textLength="12.4" lengthAdjust="spacingAndGlyphs">R33</text>
<text transform="translate(379.9 195.2) rotate(-90)" font-size="6.6" fill="#1c1c1c" textLength="12.4" lengthAdjust="spacingAndGlyphs">R27</text>
<text transform="translate(379.9 218.3) rotate(-90)" font-size="6.6" fill="#1c1c1c" textLength="12.4" lengthAdjust="spacingAndGlyphs">R28</text>
<text transform="translate(379.9 241.9) rotate(-90)" font-size="6.6" fill="#1c1c1c" textLength="12.4" lengthAdjust="spacingAndGlyphs">R20</text>
<text transform="translate(379.9 265.2) rotate(-90)" font-size="6.6" fill="#1c1c1c" textLength="12.4" lengthAdjust="spacingAndGlyphs">R17</text>
<text transform="translate(379.9 287) rotate(-90)" font-size="6.6" fill="#1c1c1c" textLength="12.4" lengthAdjust="spacingAndGlyphs">R18</text>
<text transform="translate(379.9 310.1) rotate(-90)" font-size="6.6" fill="#1c1c1c" textLength="12.4" lengthAdjust="spacingAndGlyphs">R21</text>
<text transform="translate(379.9 334.9) rotate(-90)" font-size="6.6" fill="#1c1c1c" textLength="12.4" lengthAdjust="spacingAndGlyphs">R39</text>
<line x1="384.4" y1="151" x2="384.4" y2="262" stroke="#000" stroke-width="1.5"/>
<text transform="translate(404.2 226.3) rotate(-90)" font-size="20" textLength="33.9" lengthAdjust="spacingAndGlyphs">K=2</text>
<path d="M408.4 194.4 H418.6 V180 L427.8 208.95 L418.6 237.9 V222.2 H408.4 Z" fill="#fff" stroke="#111" stroke-width="1.45" stroke-linejoin="miter"/>
<path d="M383.8 291.2 H386.8 Q388.8 291.2 388.8 293.2 V331.4 Q388.8 333.4 386.8 333.4 H383.8 M388.8 311.8 H600" fill="none" stroke="#000" stroke-width="1.7"/>
<rect x="435.4" y="151.5" width="44.2" height="24.3" fill="#ff9a05"/>
<path d="M435.4 152h1.18v1h-1.18zM435.4 153h3.39v1h-3.39zM435.4 154h1.7v1h-1.7zM435.4 155h1.96v1h-1.96zM435.4 156h0.48v1h-0.48zM435.4 157h1.28v1h-1.28zM435.4 158h2.16v1h-2.16zM435.4 159h0.81v1h-0.81zM435.4 160h1.89v1h-1.89zM435.4 161h0.87v1h-0.87zM435.4 162h1.94v1h-1.94zM435.4 163h2.49v1h-2.49zM435.4 164h0.62v1h-0.62zM435.4 165h2.81v1h-2.81zM435.4 166h1.32v1h-1.32zM435.4 167h0.94v1h-0.94zM435.4 168h0.93v1h-0.93zM435.4 169h2.26v1h-2.26zM435.4 170h0.65v1h-0.65zM435.4 171h1.71v1h-1.71zM435.4 172h2.02v1h-2.02zM435.4 173h2.02v1h-2.02zM435.4 174h0.9v1h-0.9zM435.4 175h0.8v0.8h-0.8z" fill="#ff4d9e"/>
<rect x="435.4" y="175.8" width="44.2" height="22.4" fill="#ff9a05"/>
<path d="M435.4 176h1.15v1h-1.15zM435.4 178h0.46v1h-0.46zM435.4 179h0.82v1h-0.82zM435.4 180h1.53v1h-1.53zM435.4 181h1.15v1h-1.15zM435.4 183h0.75v1h-0.75zM435.4 184h1.31v1h-1.31zM435.4 185h1.01v1h-1.01zM435.4 186h1.68v1h-1.68zM435.4 187h1.75v1h-1.75zM435.4 188h0.43v1h-0.43zM435.4 189h1.66v1h-1.66zM435.4 190h0.47v1h-0.47zM435.4 191h0.55v1h-0.55zM435.4 192h1.49v1h-1.49zM435.4 196h1.5v1h-1.5zM435.4 197h0.54v1h-0.54z" fill="#ff4d9e"/>
<rect x="435.4" y="198.2" width="44.2" height="23" fill="#ff9a05"/>
<path d="M435.4 199h1.49v1h-1.49zM435.4 200h10.04v1h-10.04zM435.4 201h9.95v1h-9.95zM435.4 202h7.09v1h-7.09zM435.4 203h5.32v1h-5.32zM435.4 204h1.78v1h-1.78zM435.4 205h21.52v1h-21.52zM435.4 206h2.79v1h-2.79zM435.4 207h3.06v1h-3.06zM435.4 208h2.29v1h-2.29zM435.4 209h0.85v1h-0.85zM435.4 210h1.5v1h-1.5zM435.4 211h13.8v1h-13.8zM435.4 212h2.03v1h-2.03zM435.4 213h1.95v1h-1.95zM435.4 214h1.43v1h-1.43zM435.4 215h16.39v1h-16.39zM435.4 216h2.2v1h-2.2zM435.4 217h1.62v1h-1.62zM435.4 218h1.28v1h-1.28zM435.4 219h18.38v1h-18.38zM435.4 220h20.01v1h-20.01z" fill="#ff4d9e"/>
<rect x="435.4" y="221.2" width="44.2" height="23.4" fill="#ff9a05"/>
<path d="M435.4 222h6.66v1h-6.66zM435.4 223h3.8v1h-3.8zM435.4 224h3.25v1h-3.25zM435.4 225h3.88v1h-3.88zM435.4 226h3.67v1h-3.67zM435.4 227h13.01v1h-13.01zM435.4 228h3.45v1h-3.45zM435.4 229h1.28v1h-1.28zM435.4 230h1.84v1h-1.84zM435.4 231h1.58v1h-1.58zM435.4 232h1.16v1h-1.16zM435.4 234h22.76v1h-22.76zM435.4 235h3.4v1h-3.4zM435.4 236h0.49v1h-0.49zM435.4 237h2.64v1h-2.64zM435.4 238h12.17v1h-12.17zM435.4 239h0.8v1h-0.8zM435.4 240h2.56v1h-2.56zM435.4 241h23.56v1h-23.56zM435.4 242h0.6v1h-0.6zM435.4 243h1.42v1h-1.42zM435.4 244h3.61v0.6h-3.61z" fill="#ff4d9e"/>
<rect x="435.4" y="244.6" width="44.2" height="24.3" fill="#ff4d9e"/>
<path d="M478.48 245h1.12v1h-1.12zM478.97 246h0.63v1h-0.63zM478.39 247h1.21v1h-1.21zM477.03 249h2.57v1h-2.57zM478.88 250h0.72v1h-0.72zM478.22 251h1.38v1h-1.38zM478.82 252h0.78v1h-0.78zM478.02 253h1.58v1h-1.58zM472.8 255h6.8v1h-6.8zM477.55 256h2.05v1h-2.05zM478.55 257h1.05v1h-1.05zM477.6 259h2v1h-2zM477.87 260h1.73v1h-1.73zM478.43 261h1.17v1h-1.17zM477 262h2.6v1h-2.6zM466.21 264h13.39v1h-13.39zM477.12 265h2.48v1h-2.48zM477.3 266h2.3v1h-2.3zM478.49 267h1.11v1h-1.11zM468.01 268h11.59v0.9h-11.59z" fill="#ff9a05"/>
<path d="M435.4 175.8H479.6M435.4 198.2H479.6M435.4 221.2H479.6M435.4 244.6H479.6" stroke="#000" stroke-width="0.95" stroke-opacity="0.72" fill="none"/>
<rect x="435.4" y="151.5" width="44.2" height="117.4" fill="none" stroke="#0a0a0a" stroke-width="1.3"/>
<path d="M435.6 151.5V268.7H479.6" fill="none" stroke="#0a0a0a" stroke-width="1.9" stroke-linecap="square"/>
<text transform="translate(487 173.6) rotate(-90)" font-size="6.6" fill="#1c1c1c" textLength="12.4" lengthAdjust="spacingAndGlyphs">R33</text>
<text transform="translate(487 196) rotate(-90)" font-size="6.6" fill="#1c1c1c" textLength="12.4" lengthAdjust="spacingAndGlyphs">R27</text>
<text transform="translate(487 219) rotate(-90)" font-size="6.6" fill="#1c1c1c" textLength="12.4" lengthAdjust="spacingAndGlyphs">R28</text>
<text transform="translate(487 242.4) rotate(-90)" font-size="6.6" fill="#1c1c1c" textLength="12.4" lengthAdjust="spacingAndGlyphs">R20</text>
<text transform="translate(487 266.7) rotate(-90)" font-size="6.6" fill="#1c1c1c" textLength="12.4" lengthAdjust="spacingAndGlyphs">R17</text>
<line x1="492" y1="151.5" x2="492" y2="240.8" stroke="#000" stroke-width="1.5"/>
<text transform="translate(511.8 213.8) rotate(-90)" font-size="20" textLength="33.8" lengthAdjust="spacingAndGlyphs">K=2</text>
<path d="M515.5 183.3 H525.5 V168.4 L534.1 196.95 L525.5 225.5 V209.8 H515.5 Z" fill="#fff" stroke="#111" stroke-width="1.45" stroke-linejoin="miter"/>
<path d="M488.7 249 H491.7 Q493.7 249 493.7 251 V268.1 Q493.7 270.1 491.7 270.1 H488.7 M493.7 259.5 H598" fill="none" stroke="#000" stroke-width="1.7"/>
<path d="M603.5 259.5L595.7 255.9L595.7 263.1Z" fill="#111"/>
<path d="M606.5 311.8L598.7 308.2L598.7 315.4Z" fill="#111"/>
<rect x="541.8" y="27.3" width="43.6" height="24.1" fill="#fadadc"/>
<path d="M577.35 28h8.05v1h-8.05zM582.43 29h2.97v1h-2.97zM570.15 30h15.25v1h-15.25zM571.42 31h13.98v1h-13.98zM578.43 32h6.97v1h-6.97zM574.43 33h10.97v1h-10.97zM574.24 34h11.16v1h-11.16zM581.24 35h4.16v1h-4.16zM573.43 36h11.97v1h-11.97zM581.38 37h4.02v1h-4.02zM579.26 38h6.14v1h-6.14zM580.32 39h5.08v1h-5.08zM571.42 40h13.98v1h-13.98zM565.78 41h19.62v1h-19.62zM571.53 42h13.87v1h-13.87zM555.81 43h29.59v1h-29.59zM553.51 44h31.89v1h-31.89zM552.4 45h33v1h-33zM575.49 46h9.91v1h-9.91zM574.8 47h10.6v1h-10.6zM573.88 48h11.52v1h-11.52zM579.29 49h6.11v1h-6.11zM560.1 50h25.3v1h-25.3z" fill="#bf8ec6"/>
<rect x="541.8" y="51.4" width="43.6" height="23" fill="#bf8ec6"/>
<path d="M541.8 52h28.53v1h-28.53zM541.8 53h13.59v1h-13.59zM541.8 54h5.1v1h-5.1zM541.8 55h35.08v1h-35.08zM541.8 56h7.76v1h-7.76zM541.8 57h7.73v1h-7.73zM541.8 58h2.84v1h-2.84zM541.8 59h5.1v1h-5.1zM541.8 60h33.53v1h-33.53zM541.8 61h25.18v1h-25.18zM541.8 62h6.35v1h-6.35zM541.8 63h13.77v1h-13.77zM541.8 64h8.11v1h-8.11zM541.8 65h5.08v1h-5.08zM541.8 66h8.17v1h-8.17zM541.8 67h4.63v1h-4.63zM541.8 68h6.14v1h-6.14zM541.8 69h7.52v1h-7.52zM541.8 70h19.68v1h-19.68zM541.8 71h7.33v1h-7.33zM541.8 72h9.41v1h-9.41zM541.8 73h17.92v1h-17.92z" fill="#fadadc"/>
<rect x="541.8" y="74.4" width="43.6" height="23.6" fill="#bf8ec6"/>
<path d="M541.8 75h6.4v1h-6.4zM541.8 76h3.66v1h-3.66zM541.8 77h3.74v1h-3.74zM541.8 78h6.88v1h-6.88zM541.8 79h3.93v1h-3.93zM541.8 80h14.67v1h-14.67zM541.8 81h3.05v1h-3.05zM541.8 82h12.14v1h-12.14zM541.8 83h2.83v1h-2.83zM541.8 84h10.39v1h-10.39zM541.8 85h2.98v1h-2.98zM541.8 86h4.56v1h-4.56zM541.8 87h2.66v1h-2.66zM541.8 88h3.73v1h-3.73zM541.8 89h3.32v1h-3.32zM541.8 90h15.77v1h-15.77zM541.8 91h15.72v1h-15.72zM541.8 92h15.27v1h-15.27zM541.8 93h8.42v1h-8.42zM541.8 94h18.59v1h-18.59zM541.8 95h3.56v1h-3.56zM541.8 96h5.17v1h-5.17zM541.8 97h2.74v1h-2.74z" fill="#fadadc"/>
<rect x="541.8" y="98" width="43.6" height="23.6" fill="#bf8ec6"/>
<path d="M541.8 98h6.43v1h-6.43zM541.8 99h2.44v1h-2.44zM541.8 100h30.09v1h-30.09zM541.8 101h30.87v1h-30.87zM541.8 102h3.85v1h-3.85zM541.8 103h13.47v1h-13.47zM541.8 104h7.05v1h-7.05zM541.8 105h8.62v1h-8.62zM541.8 106h4.66v1h-4.66zM541.8 107h4.86v1h-4.86zM541.8 108h13.97v1h-13.97zM541.8 109h21.16v1h-21.16zM541.8 110h2v1h-2zM541.8 111h5.04v1h-5.04zM541.8 112h24.67v1h-24.67zM541.8 113h4.84v1h-4.84zM541.8 114h3.18v1h-3.18zM541.8 115h6.83v1h-6.83zM541.8 116h14.83v1h-14.83zM541.8 117h26.63v1h-26.63zM541.8 118h6.85v1h-6.85zM541.8 119h8.87v1h-8.87zM541.8 120h20.08v1h-20.08zM541.8 121h33v0.6h-33z" fill="#fadadc"/>
<rect x="541.8" y="121.6" width="43.6" height="24.1" fill="#bf8ec6"/>
<path d="M541.8 122h30.52v1h-30.52zM541.8 123h3.52v1h-3.52zM541.8 124h1.84v1h-1.84zM541.8 125h11.28v1h-11.28zM541.8 126h5.19v1h-5.19zM541.8 127h1.84v1h-1.84zM541.8 128h3.22v1h-3.22zM541.8 129h8.53v1h-8.53zM541.8 130h24.53v1h-24.53zM541.8 131h22.7v1h-22.7zM541.8 132h4.14v1h-4.14zM541.8 133h5.66v1h-5.66zM541.8 134h2.68v1h-2.68zM541.8 135h2.43v1h-2.43zM541.8 136h1.98v1h-1.98zM541.8 137h5.48v1h-5.48zM541.8 138h5.22v1h-5.22zM541.8 139h6.11v1h-6.11zM541.8 140h10.91v1h-10.91zM541.8 141h9.92v1h-9.92zM541.8 142h22.79v1h-22.79zM541.8 143h7.72v1h-7.72zM541.8 144h2.63v1h-2.63zM541.8 145h20.76v0.7h-20.76z" fill="#fadadc"/>
<path d="M541.8 51.4H585.4M541.8 74.4H585.4M541.8 98H585.4M541.8 121.6H585.4" stroke="#000" stroke-width="0.8" stroke-opacity="0.5" fill="none"/>
<rect x="541.8" y="27.3" width="43.6" height="118.4" fill="none" stroke="#0a0a0a" stroke-width="1.3"/>
<path d="M542 27.3V145.5H585.4" fill="none" stroke="#0a0a0a" stroke-width="1.9" stroke-linecap="square"/>
<text transform="translate(592.8 49.2) rotate(-90)" font-size="6.6" fill="#1c1c1c" textLength="12.4" lengthAdjust="spacingAndGlyphs">R24</text>
<text transform="translate(592.8 72.2) rotate(-90)" font-size="6.6" fill="#1c1c1c" textLength="12.4" lengthAdjust="spacingAndGlyphs">R23</text>
<text transform="translate(592.8 95.8) rotate(-90)" font-size="6.6" fill="#1c1c1c" textLength="12.4" lengthAdjust="spacingAndGlyphs">R22</text>
<text transform="translate(592.8 119.4) rotate(-90)" font-size="6.6" fill="#1c1c1c" textLength="12.4" lengthAdjust="spacingAndGlyphs">R25</text>
<text transform="translate(592.8 143.5) rotate(-90)" font-size="6.6" fill="#1c1c1c" textLength="12.4" lengthAdjust="spacingAndGlyphs">R26</text>
<rect x="541.8" y="151.1" width="43.6" height="24" fill="#8c2a2c"/>
<path d="M541.8 152h1.03v1h-1.03zM541.8 153h15.03v1h-15.03zM541.8 154h0.79v1h-0.79zM541.8 155h0.64v1h-0.64zM541.8 156h1.74v1h-1.74zM541.8 157h2.11v1h-2.11zM541.8 158h27.77v1h-27.77zM541.8 159h17.27v1h-17.27zM541.8 160h19.16v1h-19.16zM541.8 161h19.32v1h-19.32zM541.8 162h1.39v1h-1.39zM541.8 163h6.15v1h-6.15zM541.8 164h1.18v1h-1.18zM541.8 165h2.1v1h-2.1zM541.8 166h27.91v1h-27.91zM541.8 167h29.76v1h-29.76zM541.8 168h30.84v1h-30.84zM541.8 169h32.69v1h-32.69zM541.8 170h31.1v1h-31.1zM541.8 171h0.8v1h-0.8zM541.8 172h25.81v1h-25.81zM541.8 173h1.16v1h-1.16zM541.8 174h0.8v1h-0.8z" fill="#fdeaea"/>
<rect x="541.8" y="175.1" width="43.6" height="23.1" fill="#8c2a2c"/>
<path d="M541.8 176h39.16v1h-39.16zM541.8 177h33.56v1h-33.56zM541.8 178h34.41v1h-34.41zM541.8 179h8.68v1h-8.68zM541.8 180h8.19v1h-8.19zM541.8 181h0.9v1h-0.9zM541.8 182h26.64v1h-26.64zM541.8 183h1.33v1h-1.33zM541.8 184h11.18v1h-11.18zM541.8 185h14.68v1h-14.68zM541.8 186h4.73v1h-4.73zM541.8 187h1.97v1h-1.97zM541.8 188h1.76v1h-1.76zM541.8 189h10.86v1h-10.86zM541.8 190h1.79v1h-1.79zM541.8 191h32.96v1h-32.96zM541.8 192h0.64v1h-0.64zM541.8 193h29.36v1h-29.36zM541.8 194h1.8v1h-1.8zM541.8 195h36.42v1h-36.42zM541.8 196h1.46v1h-1.46zM541.8 197h23.96v1h-23.96z" fill="#fdeaea"/>
<rect x="541.8" y="198.2" width="43.6" height="23" fill="#8c2a2c"/>
<path d="M541.8 199h18.71v1h-18.71zM541.8 200h23.54v1h-23.54zM541.8 201h18.75v1h-18.75zM541.8 202h6.72v1h-6.72zM541.8 203h17.62v1h-17.62zM541.8 204h16.61v1h-16.61zM541.8 205h18.24v1h-18.24zM541.8 206h1.25v1h-1.25zM541.8 207h35.4v1h-35.4zM541.8 208h0.88v1h-0.88zM541.8 209h1.26v1h-1.26zM541.8 210h32.03v1h-32.03zM541.8 211h0.64v1h-0.64zM541.8 212h1.68v1h-1.68zM541.8 213h5.65v1h-5.65zM541.8 214h1.85v1h-1.85zM541.8 215h1.99v1h-1.99zM541.8 216h0.61v1h-0.61zM541.8 217h0.87v1h-0.87zM541.8 218h0.65v1h-0.65zM541.8 219h23.97v1h-23.97zM541.8 220h32.57v1h-32.57z" fill="#fdeaea"/>
<rect x="541.8" y="221.2" width="43.6" height="24.6" fill="#fdeaea"/>
<path d="M572.85 222h12.55v1h-12.55zM581.43 223h3.97v1h-3.97zM550.27 224h35.13v1h-35.13zM569.81 225h15.59v1h-15.59zM568.17 226h17.23v1h-17.23zM573.64 227h11.76v1h-11.76zM576.92 228h8.48v1h-8.48zM556.38 229h29.02v1h-29.02zM572.94 230h12.46v1h-12.46zM552.29 231h33.11v1h-33.11zM554.08 232h31.32v1h-31.32zM574.31 233h11.09v1h-11.09zM560.85 234h24.55v1h-24.55zM575.51 235h9.89v1h-9.89zM584.18 236h1.22v1h-1.22zM574.82 237h10.58v1h-10.58zM578.97 238h6.43v1h-6.43zM563.23 239h22.17v1h-22.17zM571.61 240h13.79v1h-13.79zM566.3 241h19.1v1h-19.1zM562.21 242h23.19v1h-23.19zM554 243h31.4v1h-31.4zM573.96 244h11.44v1h-11.44zM556.54 245h28.86v0.8h-28.86z" fill="#8c2a2c"/>
<path d="M541.8 175.1H585.4M541.8 198.2H585.4M541.8 221.2H585.4" stroke="#000" stroke-width="0.95" stroke-opacity="0.72" fill="none"/>
<rect x="541.8" y="151.1" width="43.6" height="94.7" fill="none" stroke="#0a0a0a" stroke-width="1.3"/>
<path d="M542 151.1V245.6H585.4" fill="none" stroke="#0a0a0a" stroke-width="1.9" stroke-linecap="square"/>
<text transform="translate(592.8 172.9) rotate(-90)" font-size="6.6" fill="#1c1c1c" textLength="12.4" lengthAdjust="spacingAndGlyphs">R33</text>
<text transform="translate(592.8 196) rotate(-90)" font-size="6.6" fill="#1c1c1c" textLength="12.4" lengthAdjust="spacingAndGlyphs">R27</text>
<text transform="translate(592.8 219) rotate(-90)" font-size="6.6" fill="#1c1c1c" textLength="12.4" lengthAdjust="spacingAndGlyphs">R28</text>
<text transform="translate(592.8 243.6) rotate(-90)" font-size="6.6" fill="#1c1c1c" textLength="12.4" lengthAdjust="spacingAndGlyphs">R20</text>
<rect x="543.2" y="343.3" width="43.2" height="27.5" fill="#a352f2"/>
<path d="" stroke="#000" stroke-width="0.95" stroke-opacity="0.72" fill="none"/>
<rect x="543.2" y="343.3" width="43.2" height="27.5" fill="none" stroke="#0a0a0a" stroke-width="1.3"/>
<path d="M543.4 343.3V370.6H586.4" fill="none" stroke="#0a0a0a" stroke-width="1.9" stroke-linecap="square"/>
<text transform="translate(594.2 368.6) rotate(-90)" font-size="6.6" fill="#1c1c1c" textLength="12.4" lengthAdjust="spacingAndGlyphs">R38</text>
<path d="M560 348.5h25v1h-25zM575 366h10v1.2h-10zM581 358h4.5v1h-4.5z" fill="#22d9ff"/>
<path d="M544 350v14h0.9v-14zM545 363.5h4v0.9h-4z" fill="#3a22c0"/>
<rect x="544.2" y="372.5" width="42.7" height="24.1" fill="#176a17"/>
<path d="M566.88 373h20.02v1h-20.02zM579.67 374h7.23v1h-7.23zM578.95 375h7.95v1h-7.95zM584.09 376h2.81v1h-2.81zM582.95 377h3.95v1h-3.95zM578.41 378h8.49v1h-8.49zM565.26 379h21.64v1h-21.64zM559.59 380h27.31v1h-27.31zM583.02 381h3.88v1h-3.88zM577.47 382h9.43v1h-9.43zM579.4 383h7.5v1h-7.5zM578.32 384h8.58v1h-8.58zM579.13 385h7.77v1h-7.77zM576.11 386h10.79v1h-10.79zM582.15 387h4.75v1h-4.75zM576.48 388h10.42v1h-10.42zM578.56 389h8.34v1h-8.34zM578.83 390h8.07v1h-8.07zM581.71 391h5.19v1h-5.19zM570.56 392h16.34v1h-16.34zM579.73 393h7.17v1h-7.17zM581.52 394h5.38v1h-5.38zM574.24 395h12.66v1h-12.66zM582.14 396h4.76v0.6h-4.76z" fill="#10ee10"/>
<rect x="544.2" y="396.6" width="42.7" height="23.8" fill="#176a17"/>
<path d="M572.62 397h14.28v1h-14.28zM575.55 398h11.35v1h-11.35zM575.28 399h11.62v1h-11.62zM579.45 400h7.45v1h-7.45zM578.09 401h8.81v1h-8.81zM575.67 402h11.23v1h-11.23zM581.33 403h5.57v1h-5.57zM562.26 404h24.64v1h-24.64zM577.73 405h9.17v1h-9.17zM578.73 406h8.17v1h-8.17zM580.43 407h6.47v1h-6.47zM582.84 408h4.06v1h-4.06zM573.47 409h13.43v1h-13.43zM584.69 410h2.21v1h-2.21zM583.08 411h3.82v1h-3.82zM560.91 412h25.99v1h-25.99zM553.11 413h33.79v1h-33.79zM579.11 414h7.79v1h-7.79zM569.91 415h16.99v1h-16.99zM581.23 416h5.67v1h-5.67zM572.92 417h13.98v1h-13.98zM554.65 418h32.25v1h-32.25zM577.33 419h9.57v1h-9.57z" fill="#10ee10"/>
<rect x="544.2" y="420.4" width="42.7" height="22.7" fill="#176a17"/>
<path d="M576.36 421h10.54v1h-10.54zM575.39 422h11.51v1h-11.51zM560.23 423h26.67v1h-26.67zM580.21 424h6.69v1h-6.69zM572.68 425h14.22v1h-14.22zM578.84 426h8.06v1h-8.06zM578.7 427h8.2v1h-8.2zM582.9 428h4v1h-4zM582.45 429h4.45v1h-4.45zM559.29 430h27.61v1h-27.61zM575.23 431h11.67v1h-11.67zM561.79 432h25.11v1h-25.11zM582.74 433h4.16v1h-4.16zM561.15 434h25.75v1h-25.75zM581.53 435h5.37v1h-5.37zM574.74 436h12.16v1h-12.16zM584.17 437h2.73v1h-2.73zM577.91 438h8.99v1h-8.99zM583.9 439h3v1h-3zM585.8 440h1.1v1h-1.1zM562.15 441h24.75v1h-24.75zM583.79 442h3.11v1h-3.11z" fill="#10ee10"/>
<rect x="544.2" y="443.1" width="42.7" height="23.6" fill="#176a17"/>
<path d="M578.42 444h8.48v1h-8.48zM578.06 445h8.84v1h-8.84zM579.36 446h7.54v1h-7.54zM582.27 447h4.63v1h-4.63zM584.07 448h2.83v1h-2.83zM563.15 449h23.75v1h-23.75zM565.28 450h21.62v1h-21.62zM583.01 451h3.89v1h-3.89zM580.77 452h6.13v1h-6.13zM582.07 453h4.83v1h-4.83zM583.42 454h3.48v1h-3.48zM578.11 455h8.79v1h-8.79zM553.48 456h33.42v1h-33.42zM577.47 457h9.43v1h-9.43zM577.81 458h9.09v1h-9.09zM565.56 459h21.34v1h-21.34zM566.47 460h20.43v1h-20.43zM576.88 461h10.02v1h-10.02zM577.72 462h9.18v1h-9.18zM570.64 463h16.26v1h-16.26zM570.35 464h16.55v1h-16.55zM582.05 465h4.85v1h-4.85zM582.88 466h4.02v0.7h-4.02z" fill="#10ee10"/>
<rect x="544.2" y="466.7" width="42.7" height="22.8" fill="#176a17"/>
<path d="M571.02 467h15.88v1h-15.88zM580.58 468h6.32v1h-6.32zM570.11 469h16.79v1h-16.79zM580.57 470h6.33v1h-6.33zM579.05 471h7.85v1h-7.85zM584.63 472h2.27v1h-2.27zM577.7 473h9.2v1h-9.2zM576.83 474h10.07v1h-10.07zM581.59 475h5.31v1h-5.31zM581.25 476h5.65v1h-5.65zM575.9 477h11v1h-11zM582.16 478h4.74v1h-4.74zM577.11 479h9.79v1h-9.79zM583.08 480h3.82v1h-3.82zM584.77 481h2.13v1h-2.13zM584.28 482h2.62v1h-2.62zM582.39 483h4.51v1h-4.51zM574.81 484h12.09v1h-12.09zM584.71 485h2.19v1h-2.19zM582.88 486h4.02v1h-4.02zM568.09 487h18.81v1h-18.81zM579.74 488h7.16v1h-7.16z" fill="#10ee10"/>
<rect x="544.2" y="489.5" width="42.7" height="23.1" fill="#176a17"/>
<path d="M579.76 490h7.14v1h-7.14zM581.52 491h5.38v1h-5.38zM582.88 492h4.02v1h-4.02zM560.88 493h26.02v1h-26.02zM576.54 494h10.36v1h-10.36zM576.51 495h10.39v1h-10.39zM563.11 496h23.79v1h-23.79zM579.97 497h6.93v1h-6.93zM584.06 498h2.84v1h-2.84zM577.43 499h9.47v1h-9.47zM572.16 500h14.74v1h-14.74zM578.51 501h8.39v1h-8.39zM576.39 502h10.51v1h-10.51zM552.77 503h34.13v1h-34.13zM583.18 504h3.72v1h-3.72zM554.18 505h32.72v1h-32.72zM582.97 506h3.93v1h-3.93zM576.34 507h10.56v1h-10.56zM577.16 508h9.74v1h-9.74zM583.54 509h3.36v1h-3.36zM550.67 510h36.23v1h-36.23zM582.81 511h4.09v1h-4.09zM584.65 512h2.25v0.6h-2.25z" fill="#10ee10"/>
<rect x="544.2" y="512.6" width="42.7" height="22.8" fill="#176a17"/>
<path d="M578.94 513h7.96v1h-7.96zM580.01 514h6.89v1h-6.89zM560.14 515h26.76v1h-26.76zM559.86 516h27.04v1h-27.04zM565.42 517h21.48v1h-21.48zM575.52 518h11.38v1h-11.38zM573.9 519h13v1h-13zM565.75 520h21.15v1h-21.15zM571.38 521h15.52v1h-15.52zM551.09 522h35.81v1h-35.81zM552.68 523h34.22v1h-34.22zM573.45 524h13.45v1h-13.45zM574.56 525h12.34v1h-12.34zM564 526h22.9v1h-22.9zM564.89 527h22.01v1h-22.01zM570.07 528h16.83v1h-16.83zM569.06 529h17.84v1h-17.84zM568.22 530h18.68v1h-18.68zM578.57 531h8.33v1h-8.33zM571.64 532h15.26v1h-15.26zM559.16 533h27.74v1h-27.74zM561.85 534h25.05v1h-25.05z" fill="#10ee10"/>
<rect x="544.2" y="535.4" width="42.7" height="22.8" fill="#176a17"/>
<path d="M557.72 536h29.18v1h-29.18zM555.67 537h31.23v1h-31.23zM554.64 538h32.26v1h-32.26zM550.68 539h36.22v1h-36.22zM560.99 540h25.91v1h-25.91zM560.98 541h25.92v1h-25.92zM574.25 542h12.65v1h-12.65zM573.11 543h13.79v1h-13.79zM569.06 544h17.84v1h-17.84zM567.64 545h19.26v1h-19.26zM567.55 546h19.35v1h-19.35zM572.17 547h14.73v1h-14.73zM572.01 548h14.89v1h-14.89zM573.45 549h13.45v1h-13.45zM566.85 550h20.05v1h-20.05zM566.19 551h20.71v1h-20.71zM576.84 552h10.06v1h-10.06zM581.54 553h5.36v1h-5.36zM572.17 554h14.73v1h-14.73zM553.81 555h33.09v1h-33.09zM552.26 556h34.64v1h-34.64zM571.01 557h15.89v1h-15.89z" fill="#10ee10"/>
<rect x="544.2" y="558.2" width="42.7" height="23.1" fill="#10ee10"/>
<path d="M544.2 559h3.77v1h-3.77zM544.2 560h2.68v1h-2.68zM544.2 561h4.02v1h-4.02zM544.2 562h13.49v1h-13.49zM544.2 563h12.29v1h-12.29zM544.2 564h0.94v1h-0.94zM544.2 565h9.84v1h-9.84zM544.2 566h5.21v1h-5.21zM544.2 567h2.02v1h-2.02zM544.2 568h2.3v1h-2.3zM544.2 569h4.23v1h-4.23zM544.2 570h3.3v1h-3.3zM544.2 571h4.17v1h-4.17zM544.2 572h2.8v1h-2.8zM544.2 573h3.52v1h-3.52zM544.2 574h8.4v1h-8.4zM544.2 575h3.33v1h-3.33zM544.2 576h3.59v1h-3.59zM544.2 577h8.48v1h-8.48zM544.2 578h2.08v1h-2.08zM544.2 579h8.96v1h-8.96zM544.2 580h8.89v1h-8.89z" fill="#176a17"/>
<rect x="544.2" y="581.3" width="42.7" height="22.8" fill="#10ee10"/>
<path d="M544.2 582h10.13v1h-10.13zM544.2 583h21.35v1h-21.35zM544.2 584h3.28v1h-3.28zM544.2 585h37.41v1h-37.41zM544.2 586h15.18v1h-15.18zM544.2 587h8.93v1h-8.93zM544.2 588h7.68v1h-7.68zM544.2 589h17.43v1h-17.43zM544.2 590h7.05v1h-7.05zM544.2 591h7.21v1h-7.21zM544.2 592h2.44v1h-2.44zM544.2 593h7.11v1h-7.11zM544.2 594h17.04v1h-17.04zM544.2 595h9.98v1h-9.98zM544.2 596h34.81v1h-34.81zM544.2 597h20.9v1h-20.9zM544.2 598h19.67v1h-19.67zM544.2 599h19.3v1h-19.3zM544.2 600h8.91v1h-8.91zM544.2 601h16.47v1h-16.47zM544.2 602h9.75v1h-9.75zM544.2 603h9.42v1h-9.42z" fill="#176a17"/>
<rect x="544.2" y="604.1" width="42.7" height="23.1" fill="#10ee10"/>
<path d="M544.2 605h5.76v1h-5.76zM544.2 606h21.42v1h-21.42zM544.2 607h21.34v1h-21.34zM544.2 608h20.33v1h-20.33zM544.2 609h8.63v1h-8.63zM544.2 610h13.19v1h-13.19zM544.2 611h14.78v1h-14.78zM544.2 612h13.23v1h-13.23zM544.2 613h18.03v1h-18.03zM544.2 614h18.96v1h-18.96zM544.2 615h29.19v1h-29.19zM544.2 616h13.51v1h-13.51zM544.2 617h17.72v1h-17.72zM544.2 618h31.32v1h-31.32zM544.2 619h33.19v1h-33.19zM544.2 620h4.49v1h-4.49zM544.2 621h27.75v1h-27.75zM544.2 622h33.7v1h-33.7zM544.2 623h7.11v1h-7.11zM544.2 624h12.9v1h-12.9zM544.2 625h11.07v1h-11.07zM544.2 626h9.26v1h-9.26z" fill="#176a17"/>
<rect x="544.2" y="627.2" width="42.7" height="20.3" fill="#10ee10"/>
<path d="M544.2 628h37.47v1h-37.47zM544.2 629h5.44v1h-5.44zM544.2 630h7.62v1h-7.62zM544.2 631h10.6v1h-10.6zM544.2 632h7.95v1h-7.95zM544.2 633h6.94v1h-6.94zM544.2 634h18.81v1h-18.81zM544.2 635h20.06v1h-20.06zM544.2 636h19.16v1h-19.16zM544.2 637h17.95v1h-17.95zM544.2 638h25.59v1h-25.59zM544.2 639h23.5v1h-23.5zM544.2 640h9.79v1h-9.79zM544.2 641h11.04v1h-11.04zM544.2 642h14.2v1h-14.2zM544.2 643h25.24v1h-25.24zM544.2 644h7.86v1h-7.86zM544.2 645h6.99v1h-6.99zM544.2 646h31.47v1h-31.47z" fill="#176a17"/>
<rect x="544.2" y="647.5" width="42.7" height="22.9" fill="#10ee10"/>
<path d="M544.2 648h18.6v1h-18.6zM544.2 649h7.33v1h-7.33zM544.2 650h18.99v1h-18.99zM544.2 651h40.13v1h-40.13zM544.2 652h40.48v1h-40.48zM544.2 653h30.76v1h-30.76zM544.2 654h17.13v1h-17.13zM544.2 655h22.37v1h-22.37zM544.2 656h15.15v1h-15.15zM544.2 657h14.03v1h-14.03zM544.2 658h8.82v1h-8.82zM544.2 659h37.22v1h-37.22zM544.2 660h35.39v1h-35.39zM544.2 661h36.91v1h-36.91zM544.2 662h9.92v1h-9.92zM544.2 663h9.35v1h-9.35zM544.2 664h11.77v1h-11.77zM544.2 665h10.73v1h-10.73zM544.2 666h25.97v1h-25.97zM544.2 667h16.03v1h-16.03zM544.2 668h16.01v1h-16.01zM544.2 669h23.07v1h-23.07z" fill="#176a17"/>
<rect x="544.2" y="670.4" width="42.7" height="23.4" fill="#10ee10"/>
<path d="M544.2 671h15.6v1h-15.6zM544.2 672h20.58v1h-20.58zM544.2 673h28.69v1h-28.69zM544.2 674h29.54v1h-29.54zM544.2 675h5.13v1h-5.13zM544.2 676h31.03v1h-31.03zM544.2 677h29.42v1h-29.42zM544.2 678h2.83v1h-2.83zM544.2 679h7.62v1h-7.62zM544.2 680h2.31v1h-2.31zM544.2 681h15.2v1h-15.2zM544.2 682h26.83v1h-26.83zM544.2 683h27.08v1h-27.08zM544.2 684h7.69v1h-7.69zM544.2 685h10.09v1h-10.09zM544.2 686h9.93v1h-9.93zM544.2 687h24.97v1h-24.97zM544.2 688h2.22v1h-2.22zM544.2 689h8.1v1h-8.1zM544.2 690h8.98v1h-8.98zM544.2 691h21.54v1h-21.54zM544.2 692h3.94v1h-3.94zM544.2 693h4.85v0.8h-4.85z" fill="#176a17"/>
<rect x="544.2" y="693.8" width="42.7" height="23" fill="#10ee10"/>
<path d="M544.2 694h7.52v1h-7.52zM544.2 695h1.53v1h-1.53zM544.2 696h1.14v1h-1.14zM544.2 697h5.56v1h-5.56zM544.2 698h1.22v1h-1.22zM544.2 699h4.17v1h-4.17zM544.2 700h10.09v1h-10.09zM544.2 701h3.08v1h-3.08zM544.2 702h3.79v1h-3.79zM544.2 703h3.28v1h-3.28zM544.2 704h2.96v1h-2.96zM544.2 705h0.95v1h-0.95zM544.2 706h3.07v1h-3.07zM544.2 707h1.53v1h-1.53zM544.2 708h4.29v1h-4.29zM544.2 709h4.02v1h-4.02zM544.2 710h9.08v1h-9.08zM544.2 711h1.94v1h-1.94zM544.2 712h1.18v1h-1.18zM544.2 713h2.95v1h-2.95zM544.2 714h1.15v1h-1.15zM544.2 715h3.14v1h-3.14zM544.2 716h1.81v0.8h-1.81z" fill="#176a17"/>
<rect x="544.2" y="716.8" width="42.7" height="22.9" fill="#10ee10"/>
<path d="M544.2 717h3.32v1h-3.32zM544.2 718h7.08v1h-7.08zM544.2 719h5.92v1h-5.92zM544.2 720h5.93v1h-5.93zM544.2 721h3.46v1h-3.46zM544.2 722h4.05v1h-4.05zM544.2 723h1.69v1h-1.69zM544.2 724h3.61v1h-3.61zM544.2 725h21.26v1h-21.26zM544.2 726h3.23v1h-3.23zM544.2 727h25.64v1h-25.64zM544.2 728h23.83v1h-23.83zM544.2 729h4.11v1h-4.11zM544.2 730h4.68v1h-4.68zM544.2 731h28.95v1h-28.95zM544.2 732h37.29v1h-37.29zM544.2 733h6.94v1h-6.94zM544.2 734h6.21v1h-6.21zM544.2 735h5.28v1h-5.28zM544.2 736h13.95v1h-13.95zM544.2 737h3.02v1h-3.02zM544.2 738h1.15v1h-1.15zM544.2 739h3.07v0.7h-3.07z" fill="#176a17"/>
<rect x="544.2" y="739.7" width="42.7" height="22.6" fill="#10ee10"/>
<path d="M544.2 740h12.08v1h-12.08zM544.2 741h4.51v1h-4.51zM544.2 742h26.66v1h-26.66zM544.2 743h14.4v1h-14.4zM544.2 744h14.42v1h-14.42zM544.2 745h1.58v1h-1.58zM544.2 746h3.22v1h-3.22zM544.2 747h5.88v1h-5.88zM544.2 748h21.49v1h-21.49zM544.2 749h12.44v1h-12.44zM544.2 750h6.16v1h-6.16zM544.2 751h6.37v1h-6.37zM544.2 752h3.15v1h-3.15zM544.2 753h6.03v1h-6.03zM544.2 754h10.27v1h-10.27zM544.2 755h4.71v1h-4.71zM544.2 756h9.6v1h-9.6zM544.2 757h4.96v1h-4.96zM544.2 758h1.72v1h-1.72zM544.2 760h10.87v1h-10.87zM544.2 761h2.54v1h-2.54z" fill="#176a17"/>
<rect x="544.2" y="762.3" width="42.7" height="23.3" fill="#10ee10"/>
<path d="M544.2 763h6.76v1h-6.76zM544.2 764h2.78v1h-2.78zM544.2 765h3.84v1h-3.84zM544.2 766h3.92v1h-3.92zM544.2 767h32.43v1h-32.43zM544.2 768h4.97v1h-4.97zM544.2 769h3.51v1h-3.51zM544.2 770h10.22v1h-10.22zM544.2 771h11.01v1h-11.01zM544.2 772h7.03v1h-7.03zM544.2 773h6.29v1h-6.29zM544.2 774h8.32v1h-8.32zM544.2 775h4.99v1h-4.99zM544.2 776h6.8v1h-6.8zM544.2 777h2.01v1h-2.01zM544.2 778h6.52v1h-6.52zM544.2 779h11v1h-11zM544.2 780h5.15v1h-5.15zM544.2 781h1.76v1h-1.76zM544.2 782h28.33v1h-28.33zM544.2 783h27.5v1h-27.5zM544.2 784h5.07v1h-5.07zM544.2 785h5.96v0.6h-5.96z" fill="#176a17"/>
<rect x="544.2" y="785.6" width="42.7" height="24.8" fill="#10ee10"/>
<path d="M544.2 786h6.23v1h-6.23zM544.2 787h16.33v1h-16.33zM544.2 788h4.3v1h-4.3zM544.2 789h23.17v1h-23.17zM544.2 790h8.92v1h-8.92zM544.2 791h3.54v1h-3.54zM544.2 792h2.48v1h-2.48zM544.2 793h8.04v1h-8.04zM544.2 794h6v1h-6zM544.2 795h24.38v1h-24.38zM544.2 796h4.4v1h-4.4zM544.2 797h19.88v1h-19.88zM544.2 798h21.31v1h-21.31zM544.2 799h16.87v1h-16.87zM544.2 800h10.09v1h-10.09zM544.2 801h10.9v1h-10.9zM544.2 802h6.96v1h-6.96zM544.2 803h16.55v1h-16.55zM544.2 804h5.85v1h-5.85zM544.2 805h6.71v1h-6.71zM544.2 806h3.3v1h-3.3zM544.2 807h6.3v1h-6.3zM544.2 808h3.64v1h-3.64zM544.2 809h4.51v1h-4.51z" fill="#176a17"/>
<rect x="544.2" y="810.4" width="42.7" height="24.8" fill="#10ee10"/>
<path d="M544.2 811h1.47v1h-1.47zM544.2 812h5.46v1h-5.46zM544.2 813h7.09v1h-7.09zM544.2 814h8.17v1h-8.17zM544.2 815h4.85v1h-4.85zM544.2 816h4.32v1h-4.32zM544.2 817h16.2v1h-16.2zM544.2 818h17.02v1h-17.02zM544.2 819h4.53v1h-4.53zM544.2 820h2.79v1h-2.79zM544.2 821h31.72v1h-31.72zM544.2 822h29.71v1h-29.71zM544.2 823h8.51v1h-8.51zM544.2 824h26.96v1h-26.96zM544.2 825h31.75v1h-31.75zM544.2 826h9.77v1h-9.77zM544.2 827h14.49v1h-14.49zM544.2 828h1.35v1h-1.35zM544.2 829h4.54v1h-4.54zM544.2 830h1.66v1h-1.66zM544.2 831h3.16v1h-3.16zM544.2 832h2.19v1h-2.19zM544.2 833h1.36v1h-1.36zM544.2 834h2.68v1h-2.68z" fill="#176a17"/>
<path d="M544.2 396.6H586.9M544.2 420.4H586.9M544.2 443.1H586.9M544.2 466.7H586.9M544.2 489.5H586.9M544.2 512.6H586.9M544.2 535.4H586.9M544.2 558.2H586.9M544.2 581.3H586.9M544.2 604.1H586.9M544.2 627.2H586.9M544.2 647.5H586.9M544.2 670.4H586.9M544.2 693.8H586.9M544.2 716.8H586.9M544.2 739.7H586.9M544.2 762.3H586.9M544.2 785.6H586.9M544.2 810.4H586.9" stroke="#000" stroke-width="0.95" stroke-opacity="0.72" fill="none"/>
<rect x="544.2" y="372.5" width="42.7" height="462.7" fill="none" stroke="#0a0a0a" stroke-width="1.3"/>
<path d="M544.4 372.5V835H586.9" fill="none" stroke="#0a0a0a" stroke-width="1.9" stroke-linecap="square"/>
<text transform="translate(594.2 394.4) rotate(-90)" font-size="6.6" fill="#1c1c1c" textLength="12.4" lengthAdjust="spacingAndGlyphs">R32</text>
<text transform="translate(594.2 418.2) rotate(-90)" font-size="6.6" fill="#1c1c1c" textLength="12.4" lengthAdjust="spacingAndGlyphs">R19</text>
<text transform="translate(594.2 440.9) rotate(-90)" font-size="6.6" fill="#1c1c1c" textLength="12.4" lengthAdjust="spacingAndGlyphs">R14</text>
<text transform="translate(594.2 464.5) rotate(-90)" font-size="6.6" fill="#1c1c1c" textLength="12.4" lengthAdjust="spacingAndGlyphs">R12</text>
<text transform="translate(594.2 487.3) rotate(-90)" font-size="6.6" fill="#1c1c1c" textLength="12.4" lengthAdjust="spacingAndGlyphs">R13</text>
<text transform="translate(594.2 510.4) rotate(-90)" font-size="6.6" fill="#1c1c1c" textLength="12.4" lengthAdjust="spacingAndGlyphs">R15</text>
<text transform="translate(594.2 533.2) rotate(-90)" font-size="6.6" fill="#1c1c1c" textLength="12.4" lengthAdjust="spacingAndGlyphs">R16</text>
<text transform="translate(594.2 556) rotate(-90)" font-size="6.6" fill="#1c1c1c" textLength="12.4" lengthAdjust="spacingAndGlyphs">R11</text>
<text transform="translate(594.2 579.1) rotate(-90)" font-size="6.6" fill="#1c1c1c" textLength="12.4" lengthAdjust="spacingAndGlyphs">R10</text>
<text transform="translate(594.2 601.9) rotate(-90)" font-size="6.6" fill="#1c1c1c" textLength="12.4" lengthAdjust="spacingAndGlyphs">R09</text>
<text transform="translate(594.2 625) rotate(-90)" font-size="6.6" fill="#1c1c1c" textLength="12.4" lengthAdjust="spacingAndGlyphs">R08</text>
<text transform="translate(594.2 645.3) rotate(-90)" font-size="6.6" fill="#1c1c1c" textLength="12.4" lengthAdjust="spacingAndGlyphs">R07</text>
<text transform="translate(594.2 668.2) rotate(-90)" font-size="6.6" fill="#1c1c1c" textLength="12.4" lengthAdjust="spacingAndGlyphs">R03</text>
<text transform="translate(594.2 691.6) rotate(-90)" font-size="6.6" fill="#1c1c1c" textLength="12.4" lengthAdjust="spacingAndGlyphs">R06</text>
<text transform="translate(594.2 714.6) rotate(-90)" font-size="6.6" fill="#1c1c1c" textLength="12.4" lengthAdjust="spacingAndGlyphs">R05</text>
<text transform="translate(594.2 737.5) rotate(-90)" font-size="6.6" fill="#1c1c1c" textLength="12.4" lengthAdjust="spacingAndGlyphs">R01</text>
<text transform="translate(594.2 760.1) rotate(-90)" font-size="6.6" fill="#1c1c1c" textLength="12.4" lengthAdjust="spacingAndGlyphs">R04</text>
<text transform="translate(594.2 783.4) rotate(-90)" font-size="6.6" fill="#1c1c1c" textLength="12.4" lengthAdjust="spacingAndGlyphs">R02</text>
<text transform="translate(594.2 808.2) rotate(-90)" font-size="6.6" fill="#1c1c1c" textLength="12.4" lengthAdjust="spacingAndGlyphs">R30</text>
<text transform="translate(594.2 833) rotate(-90)" font-size="6.6" fill="#1c1c1c" textLength="12.4" lengthAdjust="spacingAndGlyphs">R29</text>
<rect x="543.5" y="862.4" width="45.2" height="23.1" fill="#2a1696"/>
<path d="M587.9 863h0.8v1h-0.8zM587.88 864h0.82v1h-0.82zM588.17 868h0.53v1h-0.53zM588.14 871h0.56v1h-0.56zM569.01 873h19.69v1h-19.69zM587.83 875h0.87v1h-0.87zM587.83 876h0.87v1h-0.87zM572.56 878h16.14v1h-16.14zM572.36 879h16.34v1h-16.34zM588.27 882h0.43v1h-0.43zM570.08 883h18.62v1h-18.62zM588.09 884h0.61v1h-0.61z" fill="#b48cf0"/>
<rect x="543.5" y="885.5" width="45.2" height="26.1" fill="#08e2fb"/>
<path d="M543.5 886h1.04v1h-1.04zM543.5 887h1.53v1h-1.53zM543.5 888h0.43v1h-0.43zM543.5 889h1.3v1h-1.3zM543.5 890h0.54v1h-0.54zM543.5 891h1.14v1h-1.14zM543.5 892h0.59v1h-0.59zM543.5 893h1.35v1h-1.35zM543.5 894h4.02v1h-4.02zM543.5 896h0.66v1h-0.66zM543.5 897h0.49v1h-0.49zM543.5 898h1.69v1h-1.69zM543.5 899h0.94v1h-0.94zM543.5 900h0.52v1h-0.52zM543.5 902h0.55v1h-0.55zM543.5 903h1.59v1h-1.59zM543.5 904h3.94v1h-3.94zM543.5 905h0.84v1h-0.84zM543.5 906h1.8v1h-1.8zM543.5 907h1.33v1h-1.33zM543.5 908h0.9v1h-0.9zM543.5 909h0.47v1h-0.47zM543.5 910h1.26v1h-1.26zM543.5 911h1.04v0.6h-1.04z" fill="#5a3fd0"/>
<rect x="543.5" y="911.6" width="45.2" height="24" fill="#b9e3fa"/>
<path d="M543.5 914h0.46v1h-0.46zM543.5 915h1.44v1h-1.44zM543.5 916h0.46v1h-0.46zM543.5 917h0.81v1h-0.81zM543.5 918h1.23v1h-1.23zM543.5 919h5.25v1h-5.25zM543.5 920h5.08v1h-5.08zM543.5 922h0.95v1h-0.95zM543.5 923h11.16v1h-11.16zM543.5 924h0.61v1h-0.61zM543.5 925h10.62v1h-10.62zM543.5 926h0.44v1h-0.44zM543.5 928h1.61v1h-1.61zM543.5 929h11.24v1h-11.24zM543.5 930h1.79v1h-1.79zM543.5 931h1.76v1h-1.76zM543.5 932h0.56v1h-0.56zM543.5 933h1.18v1h-1.18zM543.5 935h0.92v0.6h-0.92z" fill="#3a28b8"/>
<path d="M543.5 885.5H588.7M543.5 911.6H588.7" stroke="#000" stroke-width="0.95" stroke-opacity="0.72" fill="none"/>
<rect x="543.5" y="862.4" width="45.2" height="73.2" fill="none" stroke="#0a0a0a" stroke-width="1.3"/>
<path d="M543.7 862.4V935.4H588.7" fill="none" stroke="#0a0a0a" stroke-width="1.9" stroke-linecap="square"/>
<text transform="translate(595.2 883.3) rotate(-90)" font-size="6.6" fill="#1c1c1c" textLength="12.4" lengthAdjust="spacingAndGlyphs">R35</text>
<text transform="translate(595.2 909.4) rotate(-90)" font-size="6.6" fill="#1c1c1c" textLength="12.4" lengthAdjust="spacingAndGlyphs">R36</text>
<text transform="translate(595.2 933.4) rotate(-90)" font-size="6.6" fill="#1c1c1c" textLength="12.4" lengthAdjust="spacingAndGlyphs">R34</text>
<path d="M596 34.7 H600 Q602 34.7 602 36.7 V53 Q602 55 600 55 H596 M602 45.4 H614.2" fill="none" stroke="#000" stroke-width="1.7"/>
<path d="M596 65 H600 Q602 65 602 67 V145.6 Q602 147.6 600 147.6 H596 M602 106.7 H614.2" fill="none" stroke="#000" stroke-width="1.7"/>
<path d="M596 154.3 H600 Q602 154.3 602 156.3 V216.4 Q602 218.4 600 218.4 H596 M602 186.1 H614.2" fill="none" stroke="#000" stroke-width="1.7"/>
<path d="M596 222.6 H600 Q602 222.6 602 224.6 V241.4 Q602 243.4 600 243.4 H596 M602 233 H614.2" fill="none" stroke="#000" stroke-width="1.7"/>
<path d="M597 347.7 H601 Q603 347.7 603 349.7 V367.5 Q603 369.5 601 369.5 H597 M603 359.4 H614.4" fill="none" stroke="#000" stroke-width="1.7"/>
<path d="M596.5 372.5 H600.5 Q602.5 372.5 602.5 374.5 V507.8 Q602.5 509.8 600.5 509.8 H596.5 M602.5 441.1 H614.4" fill="none" stroke="#000" stroke-width="1.7"/>
<path d="M596.5 536.1 H600.5 Q602.5 536.1 602.5 538.1 V834 Q602.5 836 600.5 836 H596.5 M602.5 686.3 H614.4" fill="none" stroke="#000" stroke-width="1.7"/>
<path d="M597 863.7 H601 Q603 863.7 603 865.7 V882.8 Q603 884.8 601 884.8 H597 M603 873.6 H614.4" fill="none" stroke="#000" stroke-width="1.7"/>
<path d="M597 888.5 H601 Q603 888.5 603 890.5 V907 Q603 909 601 909 H597 M603 898.4 H614.4" fill="none" stroke="#000" stroke-width="1.7"/>
<path d="M597 914 H601 Q603 914 603 916 V932.4 Q603 934.4 601 934.4 H597 M603 924.5 H614.4" fill="none" stroke="#000" stroke-width="1.7"/>
<text transform="translate(631.6 57) rotate(-90)" font-size="20.8" font-weight="bold" stroke="#111" stroke-width="0.35" textLength="23" lengthAdjust="spacingAndGlyphs">XII</text>
<text transform="translate(631.6 114.9) rotate(-90)" font-size="20.8" font-weight="bold" stroke="#111" stroke-width="0.35" textLength="16.1" lengthAdjust="spacingAndGlyphs">XI</text>
<text transform="translate(631.8 191.6) rotate(-90)" font-size="20.8" font-weight="bold" stroke="#111" stroke-width="0.35" textLength="11.2" lengthAdjust="spacingAndGlyphs">X</text>
<text transform="translate(632 240.6) rotate(-90)" font-size="20.8" font-weight="bold" stroke="#111" stroke-width="0.35" textLength="16.8" lengthAdjust="spacingAndGlyphs">IX</text>
<text transform="translate(631.6 279.5) rotate(-90)" font-size="20.8" font-weight="bold" stroke="#111" stroke-width="0.35" textLength="30.3" lengthAdjust="spacingAndGlyphs">VIII</text>
<text transform="translate(631.6 324.1) rotate(-90)" font-size="20.8" font-weight="bold" stroke="#111" stroke-width="0.35" textLength="23.5" lengthAdjust="spacingAndGlyphs">VII</text>
<text transform="translate(632 368.8) rotate(-90)" font-size="20.8" font-weight="bold" stroke="#111" stroke-width="0.35" textLength="18.1" lengthAdjust="spacingAndGlyphs">VI</text>
<text transform="translate(634.6 445.6) rotate(-90)" font-size="20.8" font-weight="bold" stroke="#111" stroke-width="0.35" textLength="10.2" lengthAdjust="spacingAndGlyphs">II</text>
<text transform="translate(634.3 688.5) rotate(-90)" font-size="20.8" font-weight="bold" stroke="#111" stroke-width="0.35" textLength="4.1" lengthAdjust="spacingAndGlyphs">I</text>
<text transform="translate(632.1 883) rotate(-90)" font-size="20.8" font-weight="bold" stroke="#111" stroke-width="0.35" textLength="17.6" lengthAdjust="spacingAndGlyphs">IV</text>
<text transform="translate(632.1 904.8) rotate(-90)" font-size="20.8" font-weight="bold" stroke="#111" stroke-width="0.35" textLength="12" lengthAdjust="spacingAndGlyphs">V</text>
<text transform="translate(632.1 931.4) rotate(-90)" font-size="20.8" font-weight="bold" stroke="#111" stroke-width="0.35" textLength="13.6" lengthAdjust="spacingAndGlyphs">III</text>
<text transform="translate(672.4 114.6) rotate(-90)" font-size="20.6" font-style="italic" textLength="78.6" lengthAdjust="spacingAndGlyphs">NM + AZ</text>
<text transform="translate(672.4 341.5) rotate(-90)" font-size="20.6" font-style="italic" textLength="24.3" lengthAdjust="spacingAndGlyphs">BC</text>
<text transform="translate(672.4 547) rotate(-90)" font-size="20.6" font-style="italic" textLength="29.5" lengthAdjust="spacingAndGlyphs">WA</text>
<text transform="translate(672.4 746.1) rotate(-90)" font-size="20.6" font-style="italic" textLength="25.5" lengthAdjust="spacingAndGlyphs">OR</text>
<text transform="translate(671.2 889.2) rotate(-90)" font-size="20.6" font-style="italic" textLength="22.6" lengthAdjust="spacingAndGlyphs">CA</text>
<line x1="645.4" y1="124.7" x2="680.6" y2="124.7" stroke="#111" stroke-width="1.9" stroke-dasharray="5.5 1.9"/>
<line x1="645.4" y1="152.3" x2="680.6" y2="152.3" stroke="#111" stroke-width="1.9" stroke-dasharray="5.5 1.9"/>
<line x1="645.4" y1="176.8" x2="680.6" y2="176.8" stroke="#111" stroke-width="1.9" stroke-dasharray="5.5 1.9"/>
<line x1="645.4" y1="200.3" x2="680.6" y2="200.3" stroke="#111" stroke-width="1.9" stroke-dasharray="5.5 1.9"/>
<line x1="645.4" y1="220.5" x2="680.6" y2="220.5" stroke="#111" stroke-width="1.9" stroke-dasharray="5.5 1.9"/>
<line x1="645.4" y1="244.7" x2="680.6" y2="244.7" stroke="#111" stroke-width="1.9" stroke-dasharray="5.5 1.9"/>
<line x1="646.8" y1="419.2" x2="681" y2="419.2" stroke="#111" stroke-width="1.9" stroke-dasharray="5.5 1.9"/>
<line x1="647.3" y1="647.9" x2="682" y2="647.9" stroke="#111" stroke-width="1.9" stroke-dasharray="5.5 1.9"/>
<line x1="648.5" y1="811.1" x2="684" y2="811.1" stroke="#111" stroke-width="1.9" stroke-dasharray="5.5 1.9"/>
<text transform="translate(669.2 145.9) rotate(-90)" font-size="11.8" font-style="italic" fill="#222" textLength="14.5" lengthAdjust="spacingAndGlyphs">CO</text>
<text transform="translate(669.2 172) rotate(-90)" font-size="11.8" font-style="italic" fill="#222" textLength="16.4" lengthAdjust="spacingAndGlyphs">MT</text>
<text transform="translate(669.2 194) rotate(-90)" font-size="11.8" font-style="italic" fill="#222" textLength="11.4" lengthAdjust="spacingAndGlyphs">ID</text>
<text transform="translate(669.2 218) rotate(-90)" font-size="11.8" font-style="italic" fill="#222" textLength="14" lengthAdjust="spacingAndGlyphs">OR</text>
<text transform="translate(669.2 245.6) rotate(-90)" font-size="12.8" font-style="italic" fill="#222" textLength="23.8" lengthAdjust="spacingAndGlyphs">WA</text>
</svg>
</body></html>
